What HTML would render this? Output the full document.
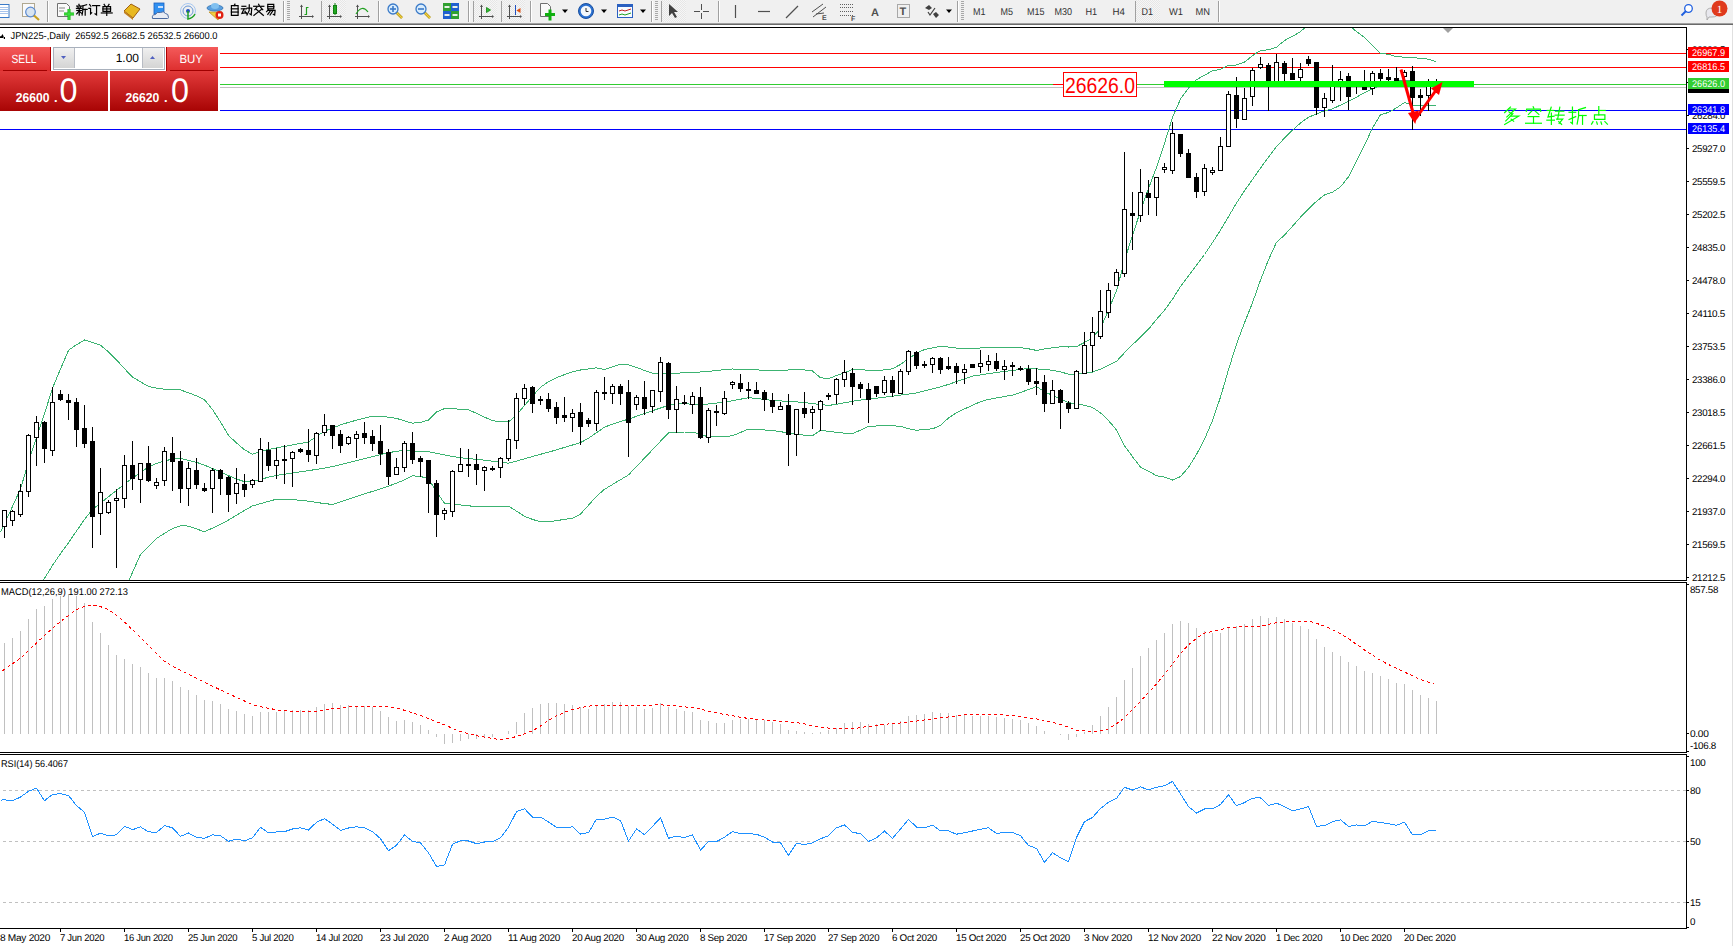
<!DOCTYPE html>
<html><head><meta charset="utf-8"><title>JPN225 Daily</title>
<style>
html,body{margin:0;padding:0;background:#fff;}
body{width:1733px;height:946px;overflow:hidden;position:relative;font-family:"Liberation Sans",sans-serif;}
svg{position:absolute;left:0;top:0;text-rendering:geometricPrecision;}
</style></head><body>
<svg width="1733" height="946" viewBox="0 0 1733 946" font-family="Liberation Sans, sans-serif">
<defs>
<linearGradient id="gSellTop" x1="0" y1="0" x2="0" y2="1"><stop offset="0" stop-color="#f45a5a"/><stop offset="1" stop-color="#dc2c2c"/></linearGradient>
<linearGradient id="gPrice" x1="0" y1="0" x2="0" y2="1"><stop offset="0" stop-color="#e23a3a"/><stop offset="1" stop-color="#a80404"/></linearGradient>
<linearGradient id="gBtn" x1="0" y1="0" x2="0" y2="1"><stop offset="0" stop-color="#f0f0f0"/><stop offset="1" stop-color="#d4d4d4"/></linearGradient>
<clipPath id="clipMain"><rect x="0" y="28" width="1686" height="552"/></clipPath>
<clipPath id="clipMacd"><rect x="0" y="583" width="1686" height="169"/></clipPath>
<clipPath id="clipRsi"><rect x="0" y="755" width="1686" height="173"/></clipPath>
</defs>

<rect x="0" y="0" width="1733" height="23" fill="#f0f0f0"/>
<rect x="0" y="23" width="1733" height="1" fill="#a0a0a0"/>
<rect x="0" y="24" width="1733" height="1" fill="#6a6a6a"/>
<rect x="1732" y="25" width="1" height="921" fill="#e0e0e0"/>
<defs><pattern id="chk" width="2" height="2" patternUnits="userSpaceOnUse"><rect width="2" height="2" fill="#f6f6f6"/><rect width="1" height="1" fill="#e6e6e6"/><rect x="1" y="1" width="1" height="1" fill="#e6e6e6"/></pattern></defs>
<rect x="47" y="1" width="1" height="21" fill="#a0a0a0" shape-rendering="crispEdges"/>
<rect x="48" y="1" width="1" height="21" fill="#ffffff" shape-rendering="crispEdges"/>
<rect x="283" y="1" width="1" height="21" fill="#a0a0a0" shape-rendering="crispEdges"/>
<rect x="284" y="1" width="1" height="21" fill="#ffffff" shape-rendering="crispEdges"/>
<rect x="321" y="1" width="1" height="21" fill="#a0a0a0" shape-rendering="crispEdges"/>
<rect x="322" y="1" width="1" height="21" fill="#ffffff" shape-rendering="crispEdges"/>
<rect x="378" y="1" width="1" height="21" fill="#a0a0a0" shape-rendering="crispEdges"/>
<rect x="379" y="1" width="1" height="21" fill="#ffffff" shape-rendering="crispEdges"/>
<rect x="468" y="1" width="1" height="21" fill="#a0a0a0" shape-rendering="crispEdges"/>
<rect x="469" y="1" width="1" height="21" fill="#ffffff" shape-rendering="crispEdges"/>
<rect x="473" y="1" width="1" height="21" fill="#a0a0a0" shape-rendering="crispEdges"/>
<rect x="474" y="1" width="1" height="21" fill="#ffffff" shape-rendering="crispEdges"/>
<rect x="501" y="1" width="1" height="21" fill="#a0a0a0" shape-rendering="crispEdges"/>
<rect x="502" y="1" width="1" height="21" fill="#ffffff" shape-rendering="crispEdges"/>
<rect x="530" y="1" width="1" height="21" fill="#a0a0a0" shape-rendering="crispEdges"/>
<rect x="531" y="1" width="1" height="21" fill="#ffffff" shape-rendering="crispEdges"/>
<rect x="651" y="1" width="1" height="21" fill="#a0a0a0" shape-rendering="crispEdges"/>
<rect x="652" y="1" width="1" height="21" fill="#ffffff" shape-rendering="crispEdges"/>
<rect x="661" y="1" width="1" height="21" fill="#a0a0a0" shape-rendering="crispEdges"/>
<rect x="662" y="1" width="1" height="21" fill="#ffffff" shape-rendering="crispEdges"/>
<rect x="718" y="1" width="1" height="21" fill="#a0a0a0" shape-rendering="crispEdges"/>
<rect x="719" y="1" width="1" height="21" fill="#ffffff" shape-rendering="crispEdges"/>
<rect x="957" y="1" width="1" height="21" fill="#a0a0a0" shape-rendering="crispEdges"/>
<rect x="958" y="1" width="1" height="21" fill="#ffffff" shape-rendering="crispEdges"/>
<rect x="1135" y="1" width="1" height="21" fill="#a0a0a0" shape-rendering="crispEdges"/>
<rect x="1136" y="1" width="1" height="21" fill="#ffffff" shape-rendering="crispEdges"/>
<rect x="1218" y="1" width="1" height="21" fill="#a0a0a0" shape-rendering="crispEdges"/>
<rect x="1219" y="1" width="1" height="21" fill="#ffffff" shape-rendering="crispEdges"/>
<line x1="288.5" y1="1" x2="288.5" y2="21" stroke="#a8a8a8" stroke-width="3" stroke-dasharray="1,1"/>
<line x1="656.5" y1="1" x2="656.5" y2="21" stroke="#a8a8a8" stroke-width="3" stroke-dasharray="1,1"/>
<line x1="962.5" y1="1" x2="962.5" y2="21" stroke="#a8a8a8" stroke-width="3" stroke-dasharray="1,1"/>
<rect x="322" y="0" width="24" height="22" fill="url(#chk)" shape-rendering="crispEdges"/>
<rect x="474" y="0" width="23" height="22" fill="url(#chk)" shape-rendering="crispEdges"/>
<rect x="502" y="0" width="23" height="22" fill="url(#chk)" shape-rendering="crispEdges"/>
<rect x="662" y="0" width="24" height="22" fill="url(#chk)" shape-rendering="crispEdges"/>
<rect x="1136" y="0" width="24" height="22" fill="url(#chk)" shape-rendering="crispEdges"/>
<rect x="-3" y="4.5" width="12" height="13" fill="#fff" stroke="#3a7ac8" stroke-width="1"/>
<g stroke="#a8c4ec" stroke-width="1"><line x1="-2" y1="7.5" x2="8" y2="7.5"/><line x1="-2" y1="9.5" x2="8" y2="9.5"/><line x1="-2" y1="11.5" x2="8" y2="11.5"/><line x1="-2" y1="13.5" x2="8" y2="13.5"/></g>
<rect x="22.5" y="3.5" width="12" height="13" fill="#fafafa" stroke="#b0a890" stroke-width="1"/>
<circle cx="30.5" cy="12" r="4.8" fill="#d8e4f0" stroke="#5a8ad0" stroke-width="1.2"/>
<line x1="34" y1="15.5" x2="39" y2="20" stroke="#c8a020" stroke-width="2.2"/>
<path d="M57.5,3.5 h9 l3,3 v10 h-12 z" fill="#fafafa" stroke="#707070" stroke-width="1"/>
<line x1="59" y1="8" x2="65" y2="8" stroke="#888"/><line x1="59" y1="11" x2="64" y2="11" stroke="#888"/>
<path d="M64,14 h10 M69,9 v11" stroke="#10b010" stroke-width="3"/>
<path d="M64,14 h10 M69,9 v11" stroke="#40e040" stroke-width="1.4"/>
<g fill="none" stroke="#000000" stroke-width="1.2" stroke-linecap="square" stroke-linejoin="miter"><polyline points="78.88,4.34 79.33,5.50"/><polyline points="76.69,6.07 81.52,6.07"/><polyline points="77.72,6.76 78.30,7.91"/><polyline points="80.72,6.76 80.14,7.91"/><polyline points="76.46,8.37 81.75,8.37"/><polyline points="76.81,10.44 81.64,10.44"/><polyline points="79.22,8.37 79.22,15.27"/><polyline points="79.11,11.13 76.69,13.89"/><polyline points="79.45,11.36 81.52,13.20"/><polyline points="86.58,4.69 82.90,5.84"/><polyline points="82.90,5.84 82.90,9.98 82.09,15.04"/><polyline points="82.90,9.41 87.16,9.41"/><polyline points="85.20,9.41 85.20,15.27"/></g><g fill="none" stroke="#000000" stroke-width="1.2" stroke-linecap="square" stroke-linejoin="miter"><polyline points="89.65,4.69 90.80,6.07"/><polyline points="88.84,8.37 90.57,8.37 90.57,13.89 91.72,12.74"/><polyline points="92.64,5.61 99.66,5.61"/><polyline points="96.55,5.61 96.55,14.81 95.06,13.89"/></g><g fill="none" stroke="#000000" stroke-width="1.2" stroke-linecap="square" stroke-linejoin="miter"><polyline points="104.11,4.34 105.03,5.72"/><polyline points="109.05,4.34 108.13,5.72"/><polyline points="102.95,6.53 110.55,6.53 110.55,11.36 102.95,11.36 102.95,6.53"/><polyline points="102.95,8.95 110.55,8.95"/><polyline points="106.75,6.53 106.75,15.38"/><polyline points="101.34,12.97 112.16,12.97"/></g>
<path d="M124,11 L131,4 L140,9 L133,18 Z" fill="#e8b820" stroke="#a06010" stroke-width="1"/>
<path d="M124,11 L133,18 L133,20 L124,13 Z" fill="#c08020"/>
<rect x="154" y="3" width="10" height="11" fill="#3090f0" stroke="#1a60c0" stroke-width="0.8"/>
<rect x="158" y="6" width="5" height="2" fill="#c8e0ff"/>
<path d="M152.5,18.5 q-1,-4 3,-4 q1,-3 5,-2 q3,-2 5,1 q3,0 3,4 q0,1 -1,1 z" fill="#e8ecf4" stroke="#4a6aa0" stroke-width="1"/>
<circle cx="188" cy="11" r="7.5" fill="none" stroke="#a8c8f0" stroke-width="1"/>
<circle cx="188" cy="11" r="5" fill="none" stroke="#6898d8" stroke-width="1"/>
<circle cx="188" cy="11" r="2" fill="#2050c0"/>
<path d="M188,11 v8 q5,-1 7,-5" fill="none" stroke="#20a020" stroke-width="1.5"/>
<path d="M209,12 L222,12 L218,20 Z" fill="#f0d040" stroke="#c09020" stroke-width="0.8"/>
<ellipse cx="215" cy="8" rx="8" ry="3" fill="#5aa0e0" stroke="#3070b0" stroke-width="0.8"/>
<ellipse cx="215" cy="6" rx="4" ry="3" fill="#80c0f0"/>
<circle cx="219.5" cy="15" r="4" fill="#e02010"/>
<rect x="218" y="13.5" width="3" height="3" fill="#fff"/>
<g fill="none" stroke="#000000" stroke-width="1.2" stroke-linecap="square" stroke-linejoin="miter"><polyline points="234.98,4.12 234.06,5.61"/><polyline points="231.41,5.72 238.09,5.72 238.09,15.38 231.41,15.38 231.41,5.72"/><polyline points="231.41,8.83 238.09,8.83"/><polyline points="231.41,12.05 238.09,12.05"/></g><g fill="none" stroke="#000000" stroke-width="1.2" stroke-linecap="square" stroke-linejoin="miter"><polyline points="241.92,6.30 245.83,6.30"/><polyline points="241.34,8.83 246.41,8.83"/><polyline points="244.10,8.83 241.92,13.43 246.18,12.74"/><polyline points="244.91,11.13 246.41,13.66"/><polyline points="247.09,8.03 251.69,8.03 251.24,14.81 249.85,13.89"/><polyline points="249.28,4.92 249.16,10.67 246.98,15.04"/></g><g fill="none" stroke="#000000" stroke-width="1.2" stroke-linecap="square" stroke-linejoin="miter"><polyline points="258.63,4.23 259.21,5.38"/><polyline points="253.69,6.30 263.81,6.30"/><polyline points="256.80,7.45 254.84,9.75"/><polyline points="260.70,7.45 262.77,9.75"/><polyline points="256.45,9.52 263.35,15.38"/><polyline points="261.28,9.52 253.92,15.38"/></g><g fill="none" stroke="#000000" stroke-width="1.2" stroke-linecap="square" stroke-linejoin="miter"><polyline points="267.76,4.46 273.74,4.46 273.74,8.83 267.76,8.83 267.76,4.46"/><polyline points="267.76,6.64 273.74,6.64"/><polyline points="268.45,9.52 266.61,11.59"/><polyline points="267.99,10.44 275.12,10.44 274.66,15.04 273.28,14.35"/><polyline points="270.18,11.13 267.76,14.35"/><polyline points="272.59,11.13 270.06,15.04"/></g>
<g stroke="#505050" stroke-width="1" shape-rendering="crispEdges"><line x1="301.5" y1="5" x2="301.5" y2="19"/><line x1="299" y1="16.5" x2="313" y2="16.5"/></g><path d="M300,7 L301.5,4.5 L303,7 Z M312,15 L314,16.5 L312,18 Z" fill="#505050"/>
<path d="M304.5,14.5 h2 v-7 h2" fill="none" stroke="#20a020" stroke-width="1.2"/>
<g stroke="#505050" stroke-width="1" shape-rendering="crispEdges"><line x1="329.5" y1="5" x2="329.5" y2="19"/><line x1="327" y1="16.5" x2="341" y2="16.5"/></g><path d="M328,7 L329.5,4.5 L331,7 Z M340,15 L342,16.5 L340,18 Z" fill="#505050"/>
<rect x="333.5" y="5.5" width="3" height="8" fill="#30d030" stroke="#108010" stroke-width="1"/><line x1="335" y1="3" x2="335" y2="15" stroke="#108010"/>
<g stroke="#505050" stroke-width="1" shape-rendering="crispEdges"><line x1="357.5" y1="5" x2="357.5" y2="19"/><line x1="355" y1="16.5" x2="369" y2="16.5"/></g><path d="M356,7 L357.5,4.5 L359,7 Z M368,15 L370,16.5 L368,18 Z" fill="#505050"/>
<path d="M356,14 Q362,4 368,12" fill="none" stroke="#20a020" stroke-width="1.2"/>
<line x1="396" y1="12" x2="402" y2="18" stroke="#b09010" stroke-width="2.6"/>
<line x1="396" y1="12" x2="402" y2="18" stroke="#f0d040" stroke-width="1.2"/>
<circle cx="393" cy="9" r="5" fill="#d8ecfc" stroke="#3a7ac8" stroke-width="1.3"/>
<line x1="390" y1="9" x2="396" y2="9" stroke="#3a7ac8" stroke-width="1.6"/>
<line x1="393" y1="6" x2="393" y2="12" stroke="#3a7ac8" stroke-width="1.6"/>
<line x1="424" y1="12" x2="430" y2="18" stroke="#b09010" stroke-width="2.6"/>
<line x1="424" y1="12" x2="430" y2="18" stroke="#f0d040" stroke-width="1.2"/>
<circle cx="421" cy="9" r="5" fill="#d8ecfc" stroke="#3a7ac8" stroke-width="1.3"/>
<line x1="418" y1="9" x2="424" y2="9" stroke="#3a7ac8" stroke-width="1.6"/>
<rect x="443" y="3" width="8" height="8" fill="#30a030"/><rect x="451" y="3" width="8" height="8" fill="#2060d0"/><rect x="443" y="11" width="8" height="8" fill="#2060d0"/><rect x="451" y="11" width="8" height="8" fill="#30a030"/>
<g fill="#e8f0e8"><rect x="444.5" y="6" width="5" height="2"/><rect x="444.5" y="14" width="5" height="2"/><rect x="452.5" y="6" width="5" height="2"/><rect x="452.5" y="14" width="5" height="2"/></g>
<g stroke="#505050" stroke-width="1" shape-rendering="crispEdges"><line x1="481.5" y1="5" x2="481.5" y2="19"/><line x1="479" y1="16.5" x2="493" y2="16.5"/></g><path d="M480,7 L481.5,4.5 L483,7 Z M492,15 L494,16.5 L492,18 Z" fill="#505050"/>
<path d="M486.5,7.5 L490.5,10 L486.5,12.5 Z" fill="#30c030" stroke="#108010" stroke-width="0.8"/>
<g stroke="#505050" stroke-width="1" shape-rendering="crispEdges"><line x1="509.5" y1="5" x2="509.5" y2="19"/><line x1="507" y1="16.5" x2="521" y2="16.5"/></g><path d="M508,7 L509.5,4.5 L511,7 Z M520,15 L522,16.5 L520,18 Z" fill="#505050"/>
<line x1="515.5" y1="5" x2="515.5" y2="15" stroke="#2050c0" stroke-width="1"/><path d="M516.5,10.5 L520.5,8 L520.5,13 Z" fill="#e05010"/>
<path d="M540.5,3.5 h7 l3,3 v10 h-10 z" fill="#fafafa" stroke="#707070" stroke-width="1"/>
<path d="M545,14.5 h10 M550,9.5 v11" stroke="#10b010" stroke-width="3"/>
<path d="M562,9.5 L568,9.5 L565,13 Z" fill="#000"/>
<path d="M601,9.5 L607,9.5 L604,13 Z" fill="#000"/>
<path d="M640,9.5 L646,9.5 L643,13 Z" fill="#000"/>
<path d="M946,9.5 L952,9.5 L949,13 Z" fill="#000"/>
<circle cx="586" cy="11" r="7.5" fill="#2a70d0" stroke="#1a50a0" stroke-width="1"/>
<circle cx="586" cy="11" r="5.3" fill="#f4f8fc"/>
<path d="M586,8 v3.5 h2.5" fill="none" stroke="#303030" stroke-width="1"/>
<rect x="617.5" y="4.5" width="15" height="13" fill="#f8fbff" stroke="#2a60c0" stroke-width="1"/><rect x="618" y="5" width="14" height="2" fill="#2a60c0"/>
<path d="M619,11 l3,-1 l3,1 l3,-1 l3,-1" fill="none" stroke="#c02020"/><path d="M619,15 l3,-1 l3,1 l3,-1 l3,-1" fill="none" stroke="#20a020"/>
<path d="M669,4 L669,16 L672,13 L675,18 L677,17 L674,12 L678,12 Z" fill="#404040"/>
<g stroke="#505050" stroke-width="1" shape-rendering="crispEdges"><line x1="694" y1="11.5" x2="700" y2="11.5"/><line x1="703" y1="11.5" x2="709" y2="11.5"/><line x1="701.5" y1="4" x2="701.5" y2="10"/><line x1="701.5" y1="13" x2="701.5" y2="19"/></g>
<g stroke="#505050" stroke-width="1.2"><line x1="735.5" y1="5" x2="735.5" y2="18"/><line x1="758" y1="11.5" x2="770" y2="11.5"/><line x1="786" y1="18" x2="798" y2="6"/></g>
<g stroke="#505050" stroke-width="1"><line x1="812" y1="12" x2="823" y2="4"/><line x1="813" y1="17" x2="826" y2="7"/><line x1="816" y1="14" x2="824" y2="13"/></g>
<text x="822" y="20" font-size="7" font-weight="bold" fill="#505050">E</text>
<g stroke="#606060" stroke-width="1" stroke-dasharray="1,1"><line x1="840" y1="4.5" x2="854" y2="4.5"/><line x1="840" y1="7.5" x2="854" y2="7.5"/><line x1="840" y1="11.5" x2="854" y2="11.5"/><line x1="840" y1="15.5" x2="854" y2="15.5"/></g>
<text x="851" y="21" font-size="7" font-weight="bold" fill="#505050">F</text>
<text x="871" y="16" font-size="11" font-weight="bold" fill="#505050">A</text>
<rect x="897.5" y="4.5" width="12" height="13" fill="none" stroke="#606060" stroke-dasharray="1,1"/>
<text x="899.5" y="15" font-size="11" font-weight="bold" fill="#505050">T</text>
<path d="M925,8 L929,5 L932,8 L929,10 Z M933,14 L936,12 L939,15 L936,18 Z" fill="#404040"/><path d="M928,12 L930,15 L935,8" fill="none" stroke="#404040" stroke-width="1.2"/>
<text x="973" y="15" font-size="10" fill="#303030" textLength="12.5" lengthAdjust="spacingAndGlyphs">M1</text>
<text x="1000.5" y="15" font-size="10" fill="#303030" textLength="12.5" lengthAdjust="spacingAndGlyphs">M5</text>
<text x="1027" y="15" font-size="10" fill="#303030" textLength="17.5" lengthAdjust="spacingAndGlyphs">M15</text>
<text x="1054.5" y="15" font-size="10" fill="#303030" textLength="17.6" lengthAdjust="spacingAndGlyphs">M30</text>
<text x="1085.5" y="15" font-size="10" fill="#303030" textLength="11.7" lengthAdjust="spacingAndGlyphs">H1</text>
<text x="1112.5" y="15" font-size="10" fill="#303030" textLength="12.4" lengthAdjust="spacingAndGlyphs">H4</text>
<text x="1141.5" y="15" font-size="10" fill="#303030" textLength="11.5" lengthAdjust="spacingAndGlyphs">D1</text>
<text x="1169" y="15" font-size="10" fill="#303030" textLength="14" lengthAdjust="spacingAndGlyphs">W1</text>
<text x="1195.5" y="15" font-size="10" fill="#303030" textLength="14.5" lengthAdjust="spacingAndGlyphs">MN</text>
<circle cx="1688.5" cy="8.5" r="3.8" fill="#fff" stroke="#2060e0" stroke-width="1.3"/><line x1="1686" y1="11" x2="1681.5" y2="15.5" stroke="#2060e0" stroke-width="2"/>
<path d="M1706,13 q0,-5 6,-5 q6,0 6,5 q0,4 -6,4 l-3,0 l-2,3 l0,-3 q-1,-1 -1,-4 z" fill="#e8e8ee" stroke="#a0a0a0" stroke-width="0.8"/>
<circle cx="1719.5" cy="8.5" r="8" fill="#e03a1c"/>
<text x="1719.5" y="12.5" font-size="11" fill="#fff" text-anchor="middle" font-family="Liberation Serif, serif">1</text>
<g shape-rendering="crispEdges" fill="#000">
<rect x="0" y="27" width="1687" height="1"/>
<rect x="1686" y="27" width="1" height="554"/>
<rect x="0" y="580" width="1687" height="1"/>
<rect x="0" y="582" width="1687" height="1"/>
<rect x="1686" y="582" width="1" height="171"/>
<rect x="0" y="752" width="1687" height="1"/>
<rect x="0" y="754" width="1687" height="1"/>
<rect x="1686" y="754" width="1" height="175"/>
<rect x="0" y="928" width="1687" height="1"/>
</g>
<g clip-path="url(#clipMain)">
<g shape-rendering="crispEdges">
<rect x="0" y="53" width="1686" height="1" fill="#ff0000"/>
<rect x="0" y="67" width="1686" height="1" fill="#ff0000"/>
<rect x="0" y="84" width="1686" height="1" fill="#32cd32"/>
<rect x="0" y="87" width="1686" height="1" fill="#c0c0c0"/>
<rect x="0" y="110" width="1686" height="1" fill="#0000ff"/>
<rect x="0" y="129" width="1686" height="1" fill="#0000ff"/>
</g>
<polyline points="0.5,532.5 4.5,523.7 12.5,506.5 20.5,489.0 28.5,461.9 36.5,437.9 44.5,413.7 52.5,388.1 60.5,369.0 68.5,350.3 76.5,344.7 84.5,340.0 92.5,342.5 100.5,345.2 108.5,351.8 116.5,359.9 124.5,368.7 132.5,377.1 140.5,381.8 148.5,386.5 156.5,388.2 164.5,389.2 172.5,389.5 180.5,389.9 188.5,392.8 196.5,395.8 204.5,399.8 212.5,409.5 220.5,422.0 228.5,435.4 236.5,443.0 244.5,449.7 252.5,454.3 260.5,451.6 268.5,449.4 276.5,447.9 284.5,446.4 292.5,444.9 300.5,443.4 308.5,441.9 316.5,436.4 324.5,431.2 332.5,428.1 340.5,424.9 348.5,422.4 356.5,420.2 364.5,418.1 372.5,416.1 380.5,416.6 388.5,417.1 396.5,418.4 404.5,420.9 412.5,423.2 420.5,422.3 428.5,420.2 436.5,411.9 444.5,408.6 452.5,408.8 460.5,409.2 468.5,409.7 476.5,413.3 484.5,417.1 492.5,420.6 500.5,421.8 508.5,422.0 516.5,414.9 524.5,405.5 532.5,396.2 540.5,387.3 548.5,381.6 556.5,377.6 564.5,374.6 572.5,371.7 580.5,370.0 588.5,368.9 596.5,367.8 604.5,369.6 612.5,366.9 620.5,364.1 628.5,364.9 636.5,367.4 644.5,370.5 652.5,373.3 660.5,373.3 668.5,373.3 676.5,373.2 684.5,372.8 692.5,372.4 700.5,372.0 708.5,371.4 716.5,370.5 724.5,369.7 732.5,369.0 740.5,369.3 748.5,369.6 756.5,369.9 764.5,370.2 772.5,370.5 780.5,370.2 788.5,370.0 796.5,369.7 804.5,369.9 812.5,371.0 820.5,377.8 828.5,378.5 836.5,375.6 844.5,372.5 852.5,369.6 860.5,369.9 868.5,370.1 876.5,370.4 884.5,369.9 892.5,368.8 900.5,364.4 908.5,358.8 916.5,353.2 924.5,349.6 932.5,347.9 940.5,346.2 948.5,347.1 956.5,348.1 964.5,348.4 972.5,348.2 980.5,348.0 988.5,347.9 996.5,347.7 1004.5,347.6 1012.5,347.6 1020.5,347.6 1028.5,348.8 1036.5,350.4 1044.5,349.0 1052.5,347.7 1060.5,346.9 1068.5,347.0 1076.5,346.6 1084.5,342.5 1092.5,337.8 1100.5,328.3 1108.5,310.1 1116.5,290.7 1124.5,260.6 1132.5,235.3 1140.5,211.0 1148.5,188.4 1156.5,167.4 1164.5,143.3 1172.5,117.4 1180.5,99.0 1188.5,88.2 1196.5,79.7 1204.5,75.2 1212.5,70.8 1220.5,69.3 1228.5,65.4 1236.5,65.0 1244.5,62.1 1252.5,55.7 1260.5,50.5 1268.5,49.8 1276.5,47.2 1284.5,40.5 1292.5,36.3 1300.5,31.6 1308.5,24.6 1316.5,22.5 1324.5,22.5 1332.5,22.5 1340.5,22.5 1348.5,24.6 1356.5,31.7 1364.5,37.3 1372.5,45.3 1380.5,53.2 1388.5,54.3 1396.5,56.8 1404.5,57.1 1412.5,57.3 1420.5,58.7 1428.5,59.1 1436.3,62.0" fill="none" stroke="#3cb371" stroke-width="1" shape-rendering="crispEdges"/>
<polyline points="43.3,580.3 44.5,578.4 52.5,565.4 60.5,553.7 68.5,542.7 76.5,531.0 84.5,519.4 92.5,509.4 100.5,503.1 108.5,496.7 116.5,490.4 124.5,484.0 132.5,478.0 140.5,472.5 148.5,467.0 156.5,463.4 164.5,461.1 172.5,458.9 180.5,458.3 188.5,460.3 196.5,462.3 204.5,465.1 212.5,468.6 220.5,472.1 228.5,475.6 236.5,479.0 244.5,481.7 252.5,480.9 260.5,479.5 268.5,477.1 276.5,475.4 284.5,474.2 292.5,473.0 300.5,471.8 308.5,470.6 316.5,469.4 324.5,468.1 332.5,466.6 340.5,464.6 348.5,462.6 356.5,460.6 364.5,458.6 372.5,456.6 380.5,454.6 388.5,452.8 396.5,451.2 404.5,450.6 412.5,451.0 420.5,451.4 428.5,451.8 436.5,453.3 444.5,454.9 452.5,456.5 460.5,457.8 468.5,458.6 476.5,459.4 484.5,460.2 492.5,461.2 500.5,462.2 508.5,463.2 516.5,461.1 524.5,458.8 532.5,456.5 540.5,454.3 548.5,452.1 556.5,449.9 564.5,447.4 572.5,445.0 580.5,442.6 588.5,438.2 596.5,432.7 604.5,427.2 612.5,424.1 620.5,421.6 628.5,419.1 636.5,416.3 644.5,413.5 652.5,410.7 660.5,408.0 668.5,405.3 676.5,403.4 684.5,403.8 692.5,404.2 700.5,404.6 708.5,404.0 716.5,403.1 724.5,402.1 732.5,400.7 740.5,399.2 748.5,397.7 756.5,398.5 764.5,399.5 772.5,400.4 780.5,400.9 788.5,401.4 796.5,401.9 804.5,402.6 812.5,403.6 820.5,404.5 828.5,405.5 836.5,404.2 844.5,402.8 852.5,401.3 860.5,400.1 868.5,399.1 876.5,398.2 884.5,397.2 892.5,396.2 900.5,395.1 908.5,394.1 916.5,392.9 924.5,390.9 932.5,388.9 940.5,386.9 948.5,384.4 956.5,381.6 964.5,378.8 972.5,376.1 980.5,374.9 988.5,373.7 996.5,372.5 1004.5,371.4 1012.5,370.5 1020.5,369.5 1028.5,368.5 1036.5,368.9 1044.5,369.5 1052.5,370.2 1060.5,371.9 1068.5,374.1 1076.5,374.2 1084.5,373.4 1092.5,372.0 1100.5,369.1 1108.5,365.4 1116.5,361.4 1124.5,352.7 1132.5,344.7 1140.5,337.2 1148.5,329.2 1156.5,319.4 1164.5,310.2 1172.5,299.2 1180.5,286.4 1188.5,275.8 1196.5,265.1 1204.5,254.5 1212.5,242.6 1220.5,230.2 1228.5,216.6 1236.5,203.1 1244.5,190.8 1252.5,179.4 1260.5,168.1 1268.5,157.1 1276.5,146.5 1284.5,138.1 1292.5,130.2 1300.5,123.0 1308.5,117.2 1316.5,114.0 1324.5,110.7 1332.5,108.9 1340.5,105.1 1348.5,101.1 1356.5,97.1 1364.5,92.6 1372.5,88.8 1380.5,85.6 1388.5,82.4 1396.5,80.8 1404.5,80.7 1412.5,80.6 1420.5,81.9 1428.5,83.2 1436.2,84.5" fill="none" stroke="#3cb371" stroke-width="1" shape-rendering="crispEdges"/>
<polyline points="129.0,580.3 132.5,572.4 140.5,554.5 148.5,546.5 156.5,538.5 164.5,533.3 172.5,528.5 180.5,525.7 188.5,526.1 196.5,528.9 204.5,531.8 212.5,528.1 220.5,524.4 228.5,520.0 236.5,515.2 244.5,510.4 252.5,505.9 260.5,503.6 268.5,501.4 276.5,499.2 284.5,499.3 292.5,499.8 300.5,500.2 308.5,501.2 316.5,502.4 324.5,503.6 332.5,504.4 340.5,501.8 348.5,499.1 356.5,496.4 364.5,493.9 372.5,491.4 380.5,488.9 388.5,486.1 396.5,483.2 404.5,479.8 412.5,475.8 420.5,476.4 428.5,478.8 436.5,491.6 444.5,503.3 452.5,504.1 460.5,505.0 468.5,505.8 476.5,506.6 484.5,506.6 492.5,506.4 500.5,506.3 508.5,506.1 516.5,511.1 524.5,516.4 532.5,519.4 540.5,521.8 548.5,521.8 556.5,520.6 564.5,519.4 572.5,518.2 580.5,514.1 588.5,505.2 596.5,496.2 604.5,489.3 612.5,484.5 620.5,479.7 628.5,474.9 636.5,466.6 644.5,458.1 652.5,449.7 660.5,441.2 668.5,432.8 676.5,432.2 684.5,432.0 692.5,432.0 700.5,434.5 708.5,436.9 716.5,436.7 724.5,436.4 732.5,435.8 740.5,432.4 748.5,429.1 756.5,429.5 764.5,430.0 772.5,430.5 780.5,431.7 788.5,432.9 796.5,434.1 804.5,435.2 812.5,435.7 820.5,430.4 828.5,431.3 836.5,432.3 844.5,433.2 852.5,433.8 860.5,430.1 868.5,426.3 876.5,426.0 884.5,425.8 892.5,425.7 900.5,426.4 908.5,428.7 916.5,430.2 924.5,429.5 932.5,428.8 940.5,425.5 948.5,417.9 956.5,412.6 964.5,408.9 972.5,405.3 980.5,401.6 988.5,399.4 996.5,398.0 1004.5,396.5 1012.5,395.1 1020.5,392.5 1028.5,389.5 1036.5,386.6 1044.5,391.7 1052.5,395.4 1060.5,399.1 1068.5,402.6 1076.5,403.8 1084.5,405.2 1092.5,407.5 1100.5,412.8 1108.5,420.6 1116.5,429.9 1124.5,445.7 1132.5,456.7 1140.5,467.2 1148.5,471.2 1156.5,475.7 1164.5,477.1 1172.5,480.0 1180.5,476.6 1188.5,467.3 1196.5,454.5 1204.5,439.2 1212.5,420.6 1220.5,397.1 1228.5,369.6 1236.5,344.2 1244.5,322.7 1252.5,302.7 1260.5,280.2 1268.5,259.8 1276.5,242.3 1284.5,235.1 1292.5,226.2 1300.5,217.2 1308.5,208.8 1316.5,201.3 1324.5,194.9 1332.5,192.2 1340.5,186.9 1348.5,176.8 1356.5,161.4 1364.5,145.4 1372.5,127.9 1380.5,114.8 1388.5,112.4 1396.5,107.8 1404.5,102.5 1412.5,105.1 1420.5,105.6 1428.5,105.8 1436.2,105.9" fill="none" stroke="#3cb371" stroke-width="1" shape-rendering="crispEdges"/>
<g shape-rendering="crispEdges">
<rect x="4" y="510" width="1" height="28" fill="#000"/>
<rect x="2" y="510" width="5" height="17" fill="#000"/>
<rect x="3" y="511" width="3" height="15" fill="#fff"/>
<rect x="12" y="510" width="1" height="16" fill="#000"/>
<rect x="10" y="511" width="5" height="10" fill="#000"/>
<rect x="11" y="512" width="3" height="8" fill="#fff"/>
<rect x="20" y="484" width="1" height="33" fill="#000"/>
<rect x="18" y="491" width="5" height="24" fill="#000"/>
<rect x="19" y="492" width="3" height="22" fill="#fff"/>
<rect x="28" y="434" width="1" height="63" fill="#000"/>
<rect x="26" y="435" width="5" height="57" fill="#000"/>
<rect x="27" y="436" width="3" height="55" fill="#fff"/>
<rect x="36" y="416" width="1" height="50" fill="#000"/>
<rect x="34" y="422" width="5" height="16" fill="#000"/>
<rect x="35" y="423" width="3" height="14" fill="#fff"/>
<rect x="44" y="421" width="1" height="42" fill="#000"/>
<rect x="42" y="422" width="5" height="27" fill="#000"/>
<rect x="52" y="387" width="1" height="69" fill="#000"/>
<rect x="50" y="402" width="5" height="49" fill="#000"/>
<rect x="51" y="403" width="3" height="47" fill="#fff"/>
<rect x="60" y="390" width="1" height="11" fill="#000"/>
<rect x="58" y="394" width="5" height="6" fill="#000"/>
<rect x="68" y="394" width="1" height="26" fill="#000"/>
<rect x="66" y="400" width="5" height="3" fill="#000"/>
<rect x="76" y="398" width="1" height="49" fill="#000"/>
<rect x="74" y="402" width="5" height="28" fill="#000"/>
<rect x="84" y="405" width="1" height="43" fill="#000"/>
<rect x="82" y="428" width="5" height="16" fill="#000"/>
<rect x="92" y="427" width="1" height="121" fill="#000"/>
<rect x="90" y="441" width="5" height="76" fill="#000"/>
<rect x="100" y="468" width="1" height="67" fill="#000"/>
<rect x="98" y="492" width="5" height="22" fill="#000"/>
<rect x="99" y="493" width="3" height="20" fill="#fff"/>
<rect x="108" y="500" width="1" height="14" fill="#000"/>
<rect x="106" y="502" width="5" height="11" fill="#000"/>
<rect x="107" y="503" width="3" height="9" fill="#fff"/>
<rect x="116" y="489" width="1" height="79" fill="#000"/>
<rect x="114" y="498" width="5" height="3" fill="#000"/>
<rect x="115" y="499" width="3" height="1" fill="#fff"/>
<rect x="124" y="455" width="1" height="53" fill="#000"/>
<rect x="122" y="465" width="5" height="34" fill="#000"/>
<rect x="123" y="466" width="3" height="32" fill="#fff"/>
<rect x="132" y="441" width="1" height="49" fill="#000"/>
<rect x="130" y="465" width="5" height="14" fill="#000"/>
<rect x="140" y="463" width="1" height="40" fill="#000"/>
<rect x="138" y="463" width="5" height="17" fill="#000"/>
<rect x="139" y="464" width="3" height="15" fill="#fff"/>
<rect x="148" y="446" width="1" height="36" fill="#000"/>
<rect x="146" y="463" width="5" height="18" fill="#000"/>
<rect x="156" y="478" width="1" height="11" fill="#000"/>
<rect x="154" y="482" width="5" height="4" fill="#000"/>
<rect x="155" y="483" width="3" height="2" fill="#fff"/>
<rect x="164" y="447" width="1" height="39" fill="#000"/>
<rect x="162" y="451" width="5" height="30" fill="#000"/>
<rect x="163" y="452" width="3" height="28" fill="#fff"/>
<rect x="172" y="437" width="1" height="54" fill="#000"/>
<rect x="170" y="453" width="5" height="9" fill="#000"/>
<rect x="180" y="451" width="1" height="52" fill="#000"/>
<rect x="178" y="461" width="5" height="28" fill="#000"/>
<rect x="188" y="462" width="1" height="44" fill="#000"/>
<rect x="186" y="468" width="5" height="21" fill="#000"/>
<rect x="187" y="469" width="3" height="19" fill="#fff"/>
<rect x="196" y="458" width="1" height="31" fill="#000"/>
<rect x="194" y="470" width="5" height="15" fill="#000"/>
<rect x="204" y="483" width="1" height="9" fill="#000"/>
<rect x="202" y="488" width="5" height="3" fill="#000"/>
<rect x="212" y="468" width="1" height="45" fill="#000"/>
<rect x="210" y="470" width="5" height="19" fill="#000"/>
<rect x="211" y="471" width="3" height="17" fill="#fff"/>
<rect x="220" y="469" width="1" height="26" fill="#000"/>
<rect x="218" y="470" width="5" height="9" fill="#000"/>
<rect x="228" y="476" width="1" height="36" fill="#000"/>
<rect x="226" y="477" width="5" height="18" fill="#000"/>
<rect x="236" y="468" width="1" height="36" fill="#000"/>
<rect x="234" y="483" width="5" height="11" fill="#000"/>
<rect x="235" y="484" width="3" height="9" fill="#fff"/>
<rect x="244" y="474" width="1" height="23" fill="#000"/>
<rect x="242" y="484" width="5" height="6" fill="#000"/>
<rect x="252" y="479" width="1" height="9" fill="#000"/>
<rect x="250" y="480" width="5" height="5" fill="#000"/>
<rect x="251" y="481" width="3" height="3" fill="#fff"/>
<rect x="260" y="438" width="1" height="44" fill="#000"/>
<rect x="258" y="449" width="5" height="33" fill="#000"/>
<rect x="259" y="450" width="3" height="31" fill="#fff"/>
<rect x="268" y="442" width="1" height="29" fill="#000"/>
<rect x="266" y="450" width="5" height="16" fill="#000"/>
<rect x="276" y="448" width="1" height="31" fill="#000"/>
<rect x="274" y="460" width="5" height="6" fill="#000"/>
<rect x="275" y="461" width="3" height="4" fill="#fff"/>
<rect x="284" y="445" width="1" height="39" fill="#000"/>
<rect x="282" y="459" width="5" height="2" fill="#000"/>
<rect x="292" y="451" width="1" height="36" fill="#000"/>
<rect x="290" y="452" width="5" height="7" fill="#000"/>
<rect x="291" y="453" width="3" height="5" fill="#fff"/>
<rect x="300" y="448" width="1" height="5" fill="#000"/>
<rect x="298" y="449" width="5" height="3" fill="#000"/>
<rect x="308" y="429" width="1" height="33" fill="#000"/>
<rect x="306" y="450" width="5" height="5" fill="#000"/>
<rect x="316" y="432" width="1" height="32" fill="#000"/>
<rect x="314" y="433" width="5" height="23" fill="#000"/>
<rect x="315" y="434" width="3" height="21" fill="#fff"/>
<rect x="324" y="414" width="1" height="22" fill="#000"/>
<rect x="322" y="425" width="5" height="8" fill="#000"/>
<rect x="323" y="426" width="3" height="6" fill="#fff"/>
<rect x="332" y="425" width="1" height="24" fill="#000"/>
<rect x="330" y="425" width="5" height="11" fill="#000"/>
<rect x="340" y="430" width="1" height="23" fill="#000"/>
<rect x="338" y="434" width="5" height="12" fill="#000"/>
<rect x="348" y="436" width="1" height="9" fill="#000"/>
<rect x="346" y="437" width="5" height="7" fill="#000"/>
<rect x="347" y="438" width="3" height="5" fill="#fff"/>
<rect x="356" y="431" width="1" height="27" fill="#000"/>
<rect x="354" y="434" width="5" height="5" fill="#000"/>
<rect x="355" y="435" width="3" height="3" fill="#fff"/>
<rect x="364" y="422" width="1" height="22" fill="#000"/>
<rect x="362" y="433" width="5" height="5" fill="#000"/>
<rect x="372" y="430" width="1" height="21" fill="#000"/>
<rect x="370" y="436" width="5" height="8" fill="#000"/>
<rect x="380" y="425" width="1" height="40" fill="#000"/>
<rect x="378" y="441" width="5" height="13" fill="#000"/>
<rect x="388" y="449" width="1" height="36" fill="#000"/>
<rect x="386" y="452" width="5" height="25" fill="#000"/>
<rect x="396" y="458" width="1" height="17" fill="#000"/>
<rect x="394" y="467" width="5" height="8" fill="#000"/>
<rect x="395" y="468" width="3" height="6" fill="#fff"/>
<rect x="404" y="441" width="1" height="31" fill="#000"/>
<rect x="402" y="443" width="5" height="25" fill="#000"/>
<rect x="403" y="444" width="3" height="23" fill="#fff"/>
<rect x="412" y="432" width="1" height="32" fill="#000"/>
<rect x="410" y="443" width="5" height="17" fill="#000"/>
<rect x="420" y="456" width="1" height="21" fill="#000"/>
<rect x="418" y="458" width="5" height="4" fill="#000"/>
<rect x="428" y="460" width="1" height="53" fill="#000"/>
<rect x="426" y="460" width="5" height="24" fill="#000"/>
<rect x="436" y="480" width="1" height="57" fill="#000"/>
<rect x="434" y="483" width="5" height="32" fill="#000"/>
<rect x="444" y="508" width="1" height="12" fill="#000"/>
<rect x="442" y="510" width="5" height="4" fill="#000"/>
<rect x="443" y="511" width="3" height="2" fill="#fff"/>
<rect x="452" y="470" width="1" height="47" fill="#000"/>
<rect x="450" y="471" width="5" height="41" fill="#000"/>
<rect x="451" y="472" width="3" height="39" fill="#fff"/>
<rect x="460" y="448" width="1" height="24" fill="#000"/>
<rect x="458" y="464" width="5" height="8" fill="#000"/>
<rect x="459" y="465" width="3" height="6" fill="#fff"/>
<rect x="468" y="449" width="1" height="28" fill="#000"/>
<rect x="466" y="464" width="5" height="2" fill="#000"/>
<rect x="476" y="454" width="1" height="31" fill="#000"/>
<rect x="474" y="464" width="5" height="6" fill="#000"/>
<rect x="484" y="466" width="1" height="25" fill="#000"/>
<rect x="482" y="467" width="5" height="4" fill="#000"/>
<rect x="483" y="468" width="3" height="2" fill="#fff"/>
<rect x="492" y="466" width="1" height="5" fill="#000"/>
<rect x="490" y="468" width="5" height="2" fill="#000"/>
<rect x="500" y="457" width="1" height="21" fill="#000"/>
<rect x="498" y="458" width="5" height="10" fill="#000"/>
<rect x="499" y="459" width="3" height="8" fill="#fff"/>
<rect x="508" y="420" width="1" height="41" fill="#000"/>
<rect x="506" y="439" width="5" height="20" fill="#000"/>
<rect x="507" y="440" width="3" height="18" fill="#fff"/>
<rect x="516" y="393" width="1" height="56" fill="#000"/>
<rect x="514" y="398" width="5" height="43" fill="#000"/>
<rect x="515" y="399" width="3" height="41" fill="#fff"/>
<rect x="524" y="384" width="1" height="21" fill="#000"/>
<rect x="522" y="388" width="5" height="11" fill="#000"/>
<rect x="523" y="389" width="3" height="9" fill="#fff"/>
<rect x="532" y="386" width="1" height="27" fill="#000"/>
<rect x="530" y="387" width="5" height="17" fill="#000"/>
<rect x="540" y="396" width="1" height="9" fill="#000"/>
<rect x="538" y="399" width="5" height="2" fill="#000"/>
<rect x="548" y="393" width="1" height="19" fill="#000"/>
<rect x="546" y="399" width="5" height="10" fill="#000"/>
<rect x="556" y="402" width="1" height="22" fill="#000"/>
<rect x="554" y="407" width="5" height="11" fill="#000"/>
<rect x="564" y="397" width="1" height="25" fill="#000"/>
<rect x="562" y="415" width="5" height="3" fill="#000"/>
<rect x="572" y="409" width="1" height="23" fill="#000"/>
<rect x="570" y="413" width="5" height="5" fill="#000"/>
<rect x="571" y="414" width="3" height="3" fill="#fff"/>
<rect x="580" y="403" width="1" height="42" fill="#000"/>
<rect x="578" y="412" width="5" height="15" fill="#000"/>
<rect x="588" y="418" width="1" height="9" fill="#000"/>
<rect x="586" y="420" width="5" height="4" fill="#000"/>
<rect x="596" y="390" width="1" height="41" fill="#000"/>
<rect x="594" y="392" width="5" height="32" fill="#000"/>
<rect x="595" y="393" width="3" height="30" fill="#fff"/>
<rect x="604" y="377" width="1" height="23" fill="#000"/>
<rect x="602" y="392" width="5" height="2" fill="#000"/>
<rect x="612" y="384" width="1" height="20" fill="#000"/>
<rect x="610" y="386" width="5" height="8" fill="#000"/>
<rect x="611" y="387" width="3" height="6" fill="#fff"/>
<rect x="620" y="384" width="1" height="21" fill="#000"/>
<rect x="618" y="386" width="5" height="8" fill="#000"/>
<rect x="628" y="380" width="1" height="77" fill="#000"/>
<rect x="626" y="392" width="5" height="31" fill="#000"/>
<rect x="636" y="395" width="1" height="15" fill="#000"/>
<rect x="634" y="397" width="5" height="8" fill="#000"/>
<rect x="635" y="398" width="3" height="6" fill="#fff"/>
<rect x="644" y="381" width="1" height="34" fill="#000"/>
<rect x="642" y="397" width="5" height="12" fill="#000"/>
<rect x="652" y="390" width="1" height="23" fill="#000"/>
<rect x="650" y="390" width="5" height="17" fill="#000"/>
<rect x="651" y="391" width="3" height="15" fill="#fff"/>
<rect x="660" y="357" width="1" height="45" fill="#000"/>
<rect x="658" y="362" width="5" height="30" fill="#000"/>
<rect x="659" y="363" width="3" height="28" fill="#fff"/>
<rect x="668" y="362" width="1" height="57" fill="#000"/>
<rect x="666" y="363" width="5" height="47" fill="#000"/>
<rect x="676" y="386" width="1" height="47" fill="#000"/>
<rect x="674" y="399" width="5" height="11" fill="#000"/>
<rect x="675" y="400" width="3" height="9" fill="#fff"/>
<rect x="684" y="395" width="1" height="10" fill="#000"/>
<rect x="682" y="402" width="5" height="2" fill="#000"/>
<rect x="692" y="392" width="1" height="22" fill="#000"/>
<rect x="690" y="396" width="5" height="9" fill="#000"/>
<rect x="691" y="397" width="3" height="7" fill="#fff"/>
<rect x="700" y="387" width="1" height="52" fill="#000"/>
<rect x="698" y="397" width="5" height="41" fill="#000"/>
<rect x="708" y="408" width="1" height="35" fill="#000"/>
<rect x="706" y="410" width="5" height="28" fill="#000"/>
<rect x="707" y="411" width="3" height="26" fill="#fff"/>
<rect x="716" y="405" width="1" height="21" fill="#000"/>
<rect x="714" y="411" width="5" height="2" fill="#000"/>
<rect x="724" y="391" width="1" height="24" fill="#000"/>
<rect x="722" y="398" width="5" height="16" fill="#000"/>
<rect x="723" y="399" width="3" height="14" fill="#fff"/>
<rect x="732" y="381" width="1" height="8" fill="#000"/>
<rect x="730" y="382" width="5" height="3" fill="#000"/>
<rect x="731" y="383" width="3" height="1" fill="#fff"/>
<rect x="740" y="374" width="1" height="18" fill="#000"/>
<rect x="738" y="383" width="5" height="6" fill="#000"/>
<rect x="748" y="382" width="1" height="17" fill="#000"/>
<rect x="746" y="389" width="5" height="2" fill="#000"/>
<rect x="756" y="382" width="1" height="12" fill="#000"/>
<rect x="754" y="390" width="5" height="4" fill="#000"/>
<rect x="764" y="390" width="1" height="21" fill="#000"/>
<rect x="762" y="392" width="5" height="8" fill="#000"/>
<rect x="772" y="393" width="1" height="20" fill="#000"/>
<rect x="770" y="400" width="5" height="7" fill="#000"/>
<rect x="780" y="402" width="1" height="8" fill="#000"/>
<rect x="778" y="406" width="5" height="4" fill="#000"/>
<rect x="779" y="407" width="3" height="2" fill="#fff"/>
<rect x="788" y="394" width="1" height="72" fill="#000"/>
<rect x="786" y="405" width="5" height="30" fill="#000"/>
<rect x="796" y="409" width="1" height="47" fill="#000"/>
<rect x="794" y="409" width="5" height="26" fill="#000"/>
<rect x="795" y="410" width="3" height="24" fill="#fff"/>
<rect x="804" y="392" width="1" height="26" fill="#000"/>
<rect x="802" y="408" width="5" height="6" fill="#000"/>
<rect x="812" y="406" width="1" height="23" fill="#000"/>
<rect x="810" y="409" width="5" height="4" fill="#000"/>
<rect x="811" y="410" width="3" height="2" fill="#fff"/>
<rect x="820" y="400" width="1" height="31" fill="#000"/>
<rect x="818" y="401" width="5" height="9" fill="#000"/>
<rect x="819" y="402" width="3" height="7" fill="#fff"/>
<rect x="828" y="393" width="1" height="7" fill="#000"/>
<rect x="826" y="395" width="5" height="2" fill="#000"/>
<rect x="836" y="378" width="1" height="26" fill="#000"/>
<rect x="834" y="379" width="5" height="16" fill="#000"/>
<rect x="835" y="380" width="3" height="14" fill="#fff"/>
<rect x="844" y="360" width="1" height="27" fill="#000"/>
<rect x="842" y="372" width="5" height="8" fill="#000"/>
<rect x="843" y="373" width="3" height="6" fill="#fff"/>
<rect x="852" y="368" width="1" height="37" fill="#000"/>
<rect x="850" y="373" width="5" height="14" fill="#000"/>
<rect x="860" y="382" width="1" height="16" fill="#000"/>
<rect x="858" y="384" width="5" height="5" fill="#000"/>
<rect x="868" y="383" width="1" height="40" fill="#000"/>
<rect x="866" y="389" width="5" height="11" fill="#000"/>
<rect x="876" y="386" width="1" height="11" fill="#000"/>
<rect x="874" y="386" width="5" height="8" fill="#000"/>
<rect x="884" y="376" width="1" height="19" fill="#000"/>
<rect x="882" y="380" width="5" height="13" fill="#000"/>
<rect x="883" y="381" width="3" height="11" fill="#fff"/>
<rect x="892" y="376" width="1" height="21" fill="#000"/>
<rect x="890" y="380" width="5" height="13" fill="#000"/>
<rect x="900" y="369" width="1" height="25" fill="#000"/>
<rect x="898" y="371" width="5" height="23" fill="#000"/>
<rect x="899" y="372" width="3" height="21" fill="#fff"/>
<rect x="908" y="350" width="1" height="25" fill="#000"/>
<rect x="906" y="351" width="5" height="21" fill="#000"/>
<rect x="907" y="352" width="3" height="19" fill="#fff"/>
<rect x="916" y="351" width="1" height="18" fill="#000"/>
<rect x="914" y="352" width="5" height="14" fill="#000"/>
<rect x="924" y="361" width="1" height="7" fill="#000"/>
<rect x="922" y="364" width="5" height="2" fill="#000"/>
<rect x="932" y="357" width="1" height="16" fill="#000"/>
<rect x="930" y="358" width="5" height="7" fill="#000"/>
<rect x="931" y="359" width="3" height="5" fill="#fff"/>
<rect x="940" y="357" width="1" height="17" fill="#000"/>
<rect x="938" y="358" width="5" height="12" fill="#000"/>
<rect x="948" y="357" width="1" height="13" fill="#000"/>
<rect x="946" y="366" width="5" height="3" fill="#000"/>
<rect x="956" y="363" width="1" height="21" fill="#000"/>
<rect x="954" y="366" width="5" height="7" fill="#000"/>
<rect x="964" y="364" width="1" height="20" fill="#000"/>
<rect x="962" y="369" width="5" height="4" fill="#000"/>
<rect x="963" y="370" width="3" height="2" fill="#fff"/>
<rect x="972" y="364" width="1" height="4" fill="#000"/>
<rect x="970" y="364" width="5" height="4" fill="#000"/>
<rect x="980" y="350" width="1" height="23" fill="#000"/>
<rect x="978" y="363" width="5" height="4" fill="#000"/>
<rect x="979" y="364" width="3" height="2" fill="#fff"/>
<rect x="988" y="355" width="1" height="16" fill="#000"/>
<rect x="986" y="361" width="5" height="4" fill="#000"/>
<rect x="987" y="362" width="3" height="2" fill="#fff"/>
<rect x="996" y="353" width="1" height="18" fill="#000"/>
<rect x="994" y="361" width="5" height="8" fill="#000"/>
<rect x="1004" y="360" width="1" height="20" fill="#000"/>
<rect x="1002" y="366" width="5" height="4" fill="#000"/>
<rect x="1003" y="367" width="3" height="2" fill="#fff"/>
<rect x="1012" y="362" width="1" height="14" fill="#000"/>
<rect x="1010" y="365" width="5" height="2" fill="#000"/>
<rect x="1020" y="366" width="1" height="5" fill="#000"/>
<rect x="1018" y="368" width="5" height="2" fill="#000"/>
<rect x="1028" y="365" width="1" height="20" fill="#000"/>
<rect x="1026" y="369" width="5" height="13" fill="#000"/>
<rect x="1036" y="368" width="1" height="27" fill="#000"/>
<rect x="1034" y="381" width="5" height="3" fill="#000"/>
<rect x="1044" y="375" width="1" height="37" fill="#000"/>
<rect x="1042" y="382" width="5" height="22" fill="#000"/>
<rect x="1052" y="380" width="1" height="24" fill="#000"/>
<rect x="1050" y="390" width="5" height="14" fill="#000"/>
<rect x="1051" y="391" width="3" height="12" fill="#fff"/>
<rect x="1060" y="389" width="1" height="40" fill="#000"/>
<rect x="1058" y="390" width="5" height="13" fill="#000"/>
<rect x="1068" y="401" width="1" height="12" fill="#000"/>
<rect x="1066" y="403" width="5" height="6" fill="#000"/>
<rect x="1076" y="370" width="1" height="39" fill="#000"/>
<rect x="1074" y="371" width="5" height="38" fill="#000"/>
<rect x="1075" y="372" width="3" height="36" fill="#fff"/>
<rect x="1084" y="332" width="1" height="42" fill="#000"/>
<rect x="1082" y="345" width="5" height="29" fill="#000"/>
<rect x="1083" y="346" width="3" height="27" fill="#fff"/>
<rect x="1092" y="317" width="1" height="55" fill="#000"/>
<rect x="1090" y="332" width="5" height="14" fill="#000"/>
<rect x="1091" y="333" width="3" height="12" fill="#fff"/>
<rect x="1100" y="290" width="1" height="49" fill="#000"/>
<rect x="1098" y="311" width="5" height="26" fill="#000"/>
<rect x="1099" y="312" width="3" height="24" fill="#fff"/>
<rect x="1108" y="283" width="1" height="35" fill="#000"/>
<rect x="1106" y="290" width="5" height="23" fill="#000"/>
<rect x="1107" y="291" width="3" height="21" fill="#fff"/>
<rect x="1116" y="269" width="1" height="17" fill="#000"/>
<rect x="1114" y="272" width="5" height="14" fill="#000"/>
<rect x="1115" y="273" width="3" height="12" fill="#fff"/>
<rect x="1124" y="152" width="1" height="125" fill="#000"/>
<rect x="1122" y="209" width="5" height="65" fill="#000"/>
<rect x="1123" y="210" width="3" height="63" fill="#fff"/>
<rect x="1132" y="192" width="1" height="58" fill="#000"/>
<rect x="1130" y="213" width="5" height="3" fill="#000"/>
<rect x="1140" y="169" width="1" height="53" fill="#000"/>
<rect x="1138" y="192" width="5" height="24" fill="#000"/>
<rect x="1139" y="193" width="3" height="22" fill="#fff"/>
<rect x="1148" y="180" width="1" height="35" fill="#000"/>
<rect x="1146" y="193" width="5" height="5" fill="#000"/>
<rect x="1156" y="177" width="1" height="39" fill="#000"/>
<rect x="1154" y="177" width="5" height="21" fill="#000"/>
<rect x="1155" y="178" width="3" height="19" fill="#fff"/>
<rect x="1164" y="163" width="1" height="10" fill="#000"/>
<rect x="1162" y="167" width="5" height="3" fill="#000"/>
<rect x="1163" y="168" width="3" height="1" fill="#fff"/>
<rect x="1172" y="122" width="1" height="52" fill="#000"/>
<rect x="1170" y="133" width="5" height="38" fill="#000"/>
<rect x="1171" y="134" width="3" height="36" fill="#fff"/>
<rect x="1180" y="134" width="1" height="23" fill="#000"/>
<rect x="1178" y="134" width="5" height="20" fill="#000"/>
<rect x="1188" y="149" width="1" height="29" fill="#000"/>
<rect x="1186" y="153" width="5" height="25" fill="#000"/>
<rect x="1196" y="173" width="1" height="25" fill="#000"/>
<rect x="1194" y="177" width="5" height="15" fill="#000"/>
<rect x="1204" y="164" width="1" height="32" fill="#000"/>
<rect x="1202" y="168" width="5" height="24" fill="#000"/>
<rect x="1203" y="169" width="3" height="22" fill="#fff"/>
<rect x="1212" y="167" width="1" height="8" fill="#000"/>
<rect x="1210" y="170" width="5" height="3" fill="#000"/>
<rect x="1211" y="171" width="3" height="1" fill="#fff"/>
<rect x="1220" y="137" width="1" height="34" fill="#000"/>
<rect x="1218" y="146" width="5" height="25" fill="#000"/>
<rect x="1219" y="147" width="3" height="23" fill="#fff"/>
<rect x="1228" y="91" width="1" height="56" fill="#000"/>
<rect x="1226" y="94" width="5" height="53" fill="#000"/>
<rect x="1227" y="95" width="3" height="51" fill="#fff"/>
<rect x="1236" y="77" width="1" height="51" fill="#000"/>
<rect x="1234" y="95" width="5" height="24" fill="#000"/>
<rect x="1244" y="88" width="1" height="32" fill="#000"/>
<rect x="1242" y="98" width="5" height="22" fill="#000"/>
<rect x="1243" y="99" width="3" height="20" fill="#fff"/>
<rect x="1252" y="68" width="1" height="38" fill="#000"/>
<rect x="1250" y="70" width="5" height="27" fill="#000"/>
<rect x="1251" y="71" width="3" height="25" fill="#fff"/>
<rect x="1260" y="57" width="1" height="12" fill="#000"/>
<rect x="1258" y="64" width="5" height="4" fill="#000"/>
<rect x="1259" y="65" width="3" height="2" fill="#fff"/>
<rect x="1268" y="63" width="1" height="48" fill="#000"/>
<rect x="1266" y="65" width="5" height="17" fill="#000"/>
<rect x="1276" y="54" width="1" height="30" fill="#000"/>
<rect x="1274" y="62" width="5" height="22" fill="#000"/>
<rect x="1275" y="63" width="3" height="20" fill="#fff"/>
<rect x="1284" y="61" width="1" height="21" fill="#000"/>
<rect x="1282" y="63" width="5" height="11" fill="#000"/>
<rect x="1292" y="58" width="1" height="22" fill="#000"/>
<rect x="1290" y="73" width="5" height="7" fill="#000"/>
<rect x="1300" y="63" width="1" height="19" fill="#000"/>
<rect x="1298" y="69" width="5" height="9" fill="#000"/>
<rect x="1299" y="70" width="3" height="7" fill="#fff"/>
<rect x="1308" y="56" width="1" height="10" fill="#000"/>
<rect x="1306" y="59" width="5" height="5" fill="#000"/>
<rect x="1316" y="62" width="1" height="53" fill="#000"/>
<rect x="1314" y="62" width="5" height="46" fill="#000"/>
<rect x="1324" y="93" width="1" height="24" fill="#000"/>
<rect x="1322" y="98" width="5" height="10" fill="#000"/>
<rect x="1323" y="99" width="3" height="8" fill="#fff"/>
<rect x="1332" y="65" width="1" height="38" fill="#000"/>
<rect x="1330" y="82" width="5" height="19" fill="#000"/>
<rect x="1331" y="83" width="3" height="17" fill="#fff"/>
<rect x="1340" y="71" width="1" height="30" fill="#000"/>
<rect x="1338" y="79" width="5" height="8" fill="#000"/>
<rect x="1339" y="80" width="3" height="6" fill="#fff"/>
<rect x="1348" y="73" width="1" height="37" fill="#000"/>
<rect x="1346" y="76" width="5" height="21" fill="#000"/>
<rect x="1356" y="81" width="1" height="13" fill="#000"/>
<rect x="1354" y="83" width="5" height="4" fill="#000"/>
<rect x="1364" y="70" width="1" height="20" fill="#000"/>
<rect x="1362" y="82" width="5" height="8" fill="#000"/>
<rect x="1372" y="71" width="1" height="24" fill="#000"/>
<rect x="1370" y="73" width="5" height="16" fill="#000"/>
<rect x="1371" y="74" width="3" height="14" fill="#fff"/>
<rect x="1380" y="69" width="1" height="13" fill="#000"/>
<rect x="1378" y="73" width="5" height="6" fill="#000"/>
<rect x="1388" y="69" width="1" height="15" fill="#000"/>
<rect x="1386" y="77" width="5" height="3" fill="#000"/>
<rect x="1396" y="67" width="1" height="18" fill="#000"/>
<rect x="1394" y="78" width="5" height="6" fill="#000"/>
<rect x="1404" y="70" width="1" height="11" fill="#000"/>
<rect x="1402" y="72" width="5" height="5" fill="#000"/>
<rect x="1403" y="73" width="3" height="3" fill="#fff"/>
<rect x="1412" y="66" width="1" height="64" fill="#000"/>
<rect x="1410" y="71" width="5" height="27" fill="#000"/>
<rect x="1420" y="89" width="1" height="27" fill="#000"/>
<rect x="1418" y="95" width="5" height="3" fill="#000"/>
<rect x="1428" y="79" width="1" height="32" fill="#000"/>
<rect x="1426" y="84" width="5" height="12" fill="#000"/>
<rect x="1427" y="85" width="3" height="10" fill="#fff"/>
<rect x="1436" y="79" width="1" height="14" fill="#000"/>
<rect x="1434" y="84" width="5" height="5" fill="#000"/>
<rect x="1435" y="85" width="3" height="3" fill="#fff"/>
</g>
<rect x="1164" y="81" width="310" height="6" fill="#00ff00" shape-rendering="crispEdges"/>
<g stroke="#ff0000" stroke-width="3" fill="none" stroke-linecap="butt" stroke-linejoin="miter">
<line x1="1401" y1="69.5" x2="1414.5" y2="118"/>
<line x1="1415.5" y1="119" x2="1439" y2="86"/>
</g>
<polygon points="1408,113 1415.2,124 1419,110.5" fill="#ff0000"/>
<polygon points="1431,88.5 1442.5,82 1439,95" fill="#ff0000"/>
<rect x="1053" y="84" width="10" height="1" fill="#ff0000" shape-rendering="crispEdges"/>
<rect x="1063.5" y="72.5" width="73" height="24" fill="#fff" stroke="#ff0000" stroke-width="1" shape-rendering="crispEdges"/>
<text x="1065" y="93" font-size="22" fill="#ff0000" textLength="70" lengthAdjust="spacingAndGlyphs">26626.0</text>
<polygon points="1443,28 1453,28 1448,33" fill="#a0a0a0"/>
<g fill="none" stroke="#00ff00" stroke-width="1.2" stroke-linecap="square" stroke-linejoin="miter"><polyline points="1510.42,107.04 1504.66,112.62"/><polyline points="1508.98,109.02 1515.46,109.02 1506.82,116.94"/><polyline points="1508.98,111.90 1511.86,114.06"/><polyline points="1512.94,113.70 1505.74,120.90"/><polyline points="1511.14,116.22 1518.70,116.22 1504.66,124.50"/><polyline points="1511.14,119.10 1513.66,121.26"/></g><g fill="none" stroke="#00ff00" stroke-width="1.2" stroke-linecap="square" stroke-linejoin="miter"><polyline points="1533.14,106.68 1533.86,108.30"/><polyline points="1526.30,111.18 1526.66,109.20 1540.34,109.20 1540.70,111.18"/><polyline points="1531.70,111.18 1528.46,114.42"/><polyline points="1535.30,111.18 1538.90,114.42"/><polyline points="1528.10,116.58 1538.90,116.58"/><polyline points="1533.50,116.58 1533.50,123.24"/><polyline points="1525.58,123.24 1541.42,123.24"/></g><g fill="none" stroke="#00ff00" stroke-width="1.2" stroke-linecap="square" stroke-linejoin="miter"><polyline points="1547.22,110.46 1553.70,110.46"/><polyline points="1551.18,107.22 1547.94,116.94 1554.06,116.22"/><polyline points="1551.36,112.98 1551.36,124.32"/><polyline points="1546.86,120.18 1554.42,120.18"/><polyline points="1555.50,111.18 1563.78,111.18"/><polyline points="1555.14,115.14 1564.14,115.14"/><polyline points="1559.82,107.22 1557.66,119.10"/><polyline points="1556.58,119.10 1562.70,119.10 1559.10,123.42"/><polyline points="1558.74,121.62 1561.62,124.32"/></g><g fill="none" stroke="#00ff00" stroke-width="1.2" stroke-linecap="square" stroke-linejoin="miter"><polyline points="1569.04,112.26 1575.70,112.26"/><polyline points="1572.46,107.22 1572.46,123.78 1570.84,122.34"/><polyline points="1569.04,119.46 1575.70,116.58"/><polyline points="1585.42,107.58 1578.58,109.74"/><polyline points="1578.58,109.74 1578.58,116.22 1577.14,123.96"/><polyline points="1578.58,115.50 1586.14,115.50"/><polyline points="1582.54,115.50 1582.54,124.32"/></g><g fill="none" stroke="#00ff00" stroke-width="1.2" stroke-linecap="square" stroke-linejoin="miter"><polyline points="1598.78,106.68 1598.78,114.78"/><polyline points="1598.78,110.46 1605.26,110.46"/><polyline points="1594.46,114.78 1604.90,114.78 1604.90,119.46 1594.46,119.46 1594.46,114.78"/><polyline points="1593.02,121.62 1591.58,124.14"/><polyline points="1596.62,121.98 1597.34,124.14"/><polyline points="1600.94,121.98 1601.66,124.14"/><polyline points="1604.90,121.62 1607.42,124.14"/></g>
</g>
<path d="M0,38 L0,36.2 L1.2,36.2 L2.4,34 L3.7,36.2 L3.3,38 Z" fill="#000"/><rect x="3.8" y="37" width="1.2" height="2" fill="#000"/>
<text x="10.5" y="39" font-size="9.8" fill="#000" textLength="207" lengthAdjust="spacingAndGlyphs" xml:space="preserve">JPN225-,Daily  26592.5 26682.5 26532.5 26600.0</text>
<g shape-rendering="crispEdges" fill="#000">
<rect x="1687" y="148" width="2" height="1"/>
<rect x="1687" y="181" width="2" height="1"/>
<rect x="1687" y="214" width="2" height="1"/>
<rect x="1687" y="247" width="2" height="1"/>
<rect x="1687" y="280" width="2" height="1"/>
<rect x="1687" y="313" width="2" height="1"/>
<rect x="1687" y="346" width="2" height="1"/>
<rect x="1687" y="379" width="2" height="1"/>
<rect x="1687" y="412" width="2" height="1"/>
<rect x="1687" y="445" width="2" height="1"/>
<rect x="1687" y="478" width="2" height="1"/>
<rect x="1687" y="511" width="2" height="1"/>
<rect x="1687" y="544" width="2" height="1"/>
<rect x="1687" y="577" width="2" height="1"/>
<rect x="1687" y="49" width="2" height="1"/>
<rect x="1687" y="82" width="2" height="1"/>
<rect x="1687" y="115" width="2" height="1"/>
</g>
<g font-size="9.8" fill="#000" letter-spacing="-0.3">
<text x="1692" y="152" textLength="33" lengthAdjust="spacingAndGlyphs">25927.0</text>
<text x="1692" y="185" textLength="33" lengthAdjust="spacingAndGlyphs">25559.5</text>
<text x="1692" y="218" textLength="33" lengthAdjust="spacingAndGlyphs">25202.5</text>
<text x="1692" y="251" textLength="33" lengthAdjust="spacingAndGlyphs">24835.0</text>
<text x="1692" y="284" textLength="33" lengthAdjust="spacingAndGlyphs">24478.0</text>
<text x="1692" y="317" textLength="33" lengthAdjust="spacingAndGlyphs">24110.5</text>
<text x="1692" y="350" textLength="33" lengthAdjust="spacingAndGlyphs">23753.5</text>
<text x="1692" y="383" textLength="33" lengthAdjust="spacingAndGlyphs">23386.0</text>
<text x="1692" y="416" textLength="33" lengthAdjust="spacingAndGlyphs">23018.5</text>
<text x="1692" y="449" textLength="33" lengthAdjust="spacingAndGlyphs">22661.5</text>
<text x="1692" y="482" textLength="33" lengthAdjust="spacingAndGlyphs">22294.0</text>
<text x="1692" y="515" textLength="33" lengthAdjust="spacingAndGlyphs">21937.0</text>
<text x="1692" y="548" textLength="33" lengthAdjust="spacingAndGlyphs">21569.5</text>
<text x="1692" y="581" textLength="33" lengthAdjust="spacingAndGlyphs">21212.5</text>
<text x="1692" y="119" textLength="33" lengthAdjust="spacingAndGlyphs">26284.0</text>
<text x="1692" y="53" textLength="33" lengthAdjust="spacingAndGlyphs">26998.5</text>
<text x="1692" y="86" textLength="33" lengthAdjust="spacingAndGlyphs">26641.0</text>
</g>
<rect x="1688" y="47" width="41" height="11" fill="#ff0000" shape-rendering="crispEdges"/>
<text x="1692" y="56" font-size="9.8" fill="#fff" textLength="33" lengthAdjust="spacingAndGlyphs">26967.9</text>
<rect x="1688" y="61" width="41" height="11" fill="#ff0000" shape-rendering="crispEdges"/>
<text x="1692" y="70" font-size="9.8" fill="#fff" textLength="33" lengthAdjust="spacingAndGlyphs">26816.5</text>
<rect x="1688" y="88" width="41" height="5" fill="#000" shape-rendering="crispEdges"/>
<rect x="1688" y="78" width="41" height="11" fill="#32cd32" shape-rendering="crispEdges"/>
<text x="1692" y="87" font-size="9.8" fill="#fff" textLength="33" lengthAdjust="spacingAndGlyphs">26626.0</text>
<rect x="1688" y="104" width="41" height="11" fill="#0000ff" shape-rendering="crispEdges"/>
<text x="1692" y="113" font-size="9.8" fill="#fff" textLength="33" lengthAdjust="spacingAndGlyphs">26341.8</text>
<rect x="1688" y="123" width="41" height="11" fill="#0000ff" shape-rendering="crispEdges"/>
<text x="1692" y="132" font-size="9.8" fill="#fff" textLength="33" lengthAdjust="spacingAndGlyphs">26135.4</text>
<g shape-rendering="crispEdges">
<rect x="0" y="46" width="220" height="66" fill="#fff"/>
<rect x="0" y="47" width="51" height="25" fill="url(#gSellTop)"/>
<rect x="50" y="47" width="1" height="25" fill="#b00000"/>
<rect x="3" y="70" width="44" height="1" fill="#a00000"/>
<rect x="166" y="47" width="52" height="25" fill="url(#gSellTop)"/>
<rect x="166" y="47" width="1" height="25" fill="#b00000"/>
<rect x="170" y="70" width="44" height="1" fill="#a00000"/>
<rect x="51" y="47" width="115" height="25" fill="#ffffff"/>
<rect x="53" y="47" width="111" height="22" fill="#ffffff" stroke="#a8b0bc" stroke-width="1"/>
<rect x="54" y="48" width="20" height="20" fill="url(#gBtn)"/>
<rect x="74" y="48" width="1" height="20" fill="#b8bcc4"/>
<rect x="142" y="48" width="1" height="20" fill="#b8bcc4"/>
<rect x="143" y="48" width="20" height="20" fill="url(#gBtn)"/>
<rect x="0" y="71" width="108" height="40" fill="url(#gPrice)"/>
<rect x="110" y="71" width="108" height="40" fill="url(#gPrice)"/>
</g>
<polygon points="61,56 66,56 63.5,59" fill="#5060c0"/>
<polygon points="150,59 155,59 152.5,56" fill="#5060c0"/>
<text x="139" y="62" font-size="12" fill="#000" text-anchor="end">1.00</text>
<text x="11.5" y="63" font-size="12" fill="#fff" textLength="25" lengthAdjust="spacingAndGlyphs">SELL</text>
<text x="179.5" y="63" font-size="12" fill="#fff" textLength="23.5" lengthAdjust="spacingAndGlyphs">BUY</text>
<text x="15.7" y="102" font-size="13" font-weight="bold" fill="#fff" textLength="33.7" lengthAdjust="spacingAndGlyphs">26600</text>
<text x="54" y="102" font-size="13" font-weight="bold" fill="#fff">.</text>
<text x="59.5" y="101.8" font-size="34" fill="#fff" textLength="18" lengthAdjust="spacingAndGlyphs">0</text>
<text x="125.4" y="102" font-size="13" font-weight="bold" fill="#fff" textLength="33.9" lengthAdjust="spacingAndGlyphs">26620</text>
<text x="164" y="102" font-size="13" font-weight="bold" fill="#fff">.</text>
<text x="171" y="101.8" font-size="34" fill="#fff" textLength="18" lengthAdjust="spacingAndGlyphs">0</text>
<g clip-path="url(#clipMacd)" shape-rendering="crispEdges" fill="#c0c0c0">
<rect x="4" y="643" width="1" height="91"/>
<rect x="12" y="638" width="1" height="96"/>
<rect x="20" y="631" width="1" height="103"/>
<rect x="28" y="619" width="1" height="115"/>
<rect x="36" y="609" width="1" height="125"/>
<rect x="44" y="606" width="1" height="128"/>
<rect x="52" y="599" width="1" height="135"/>
<rect x="60" y="596" width="1" height="138"/>
<rect x="68" y="594" width="1" height="140"/>
<rect x="76" y="596" width="1" height="138"/>
<rect x="84" y="603" width="1" height="131"/>
<rect x="92" y="622" width="1" height="112"/>
<rect x="100" y="633" width="1" height="101"/>
<rect x="108" y="645" width="1" height="89"/>
<rect x="116" y="655" width="1" height="79"/>
<rect x="124" y="659" width="1" height="75"/>
<rect x="132" y="664" width="1" height="70"/>
<rect x="140" y="667" width="1" height="67"/>
<rect x="148" y="673" width="1" height="61"/>
<rect x="156" y="678" width="1" height="56"/>
<rect x="164" y="678" width="1" height="56"/>
<rect x="172" y="681" width="1" height="53"/>
<rect x="180" y="687" width="1" height="47"/>
<rect x="188" y="690" width="1" height="44"/>
<rect x="196" y="695" width="1" height="39"/>
<rect x="204" y="700" width="1" height="34"/>
<rect x="212" y="701" width="1" height="33"/>
<rect x="220" y="704" width="1" height="30"/>
<rect x="228" y="709" width="1" height="25"/>
<rect x="236" y="711" width="1" height="23"/>
<rect x="244" y="714" width="1" height="20"/>
<rect x="252" y="716" width="1" height="18"/>
<rect x="260" y="712" width="1" height="22"/>
<rect x="268" y="712" width="1" height="22"/>
<rect x="276" y="712" width="1" height="22"/>
<rect x="284" y="711" width="1" height="23"/>
<rect x="292" y="710" width="1" height="24"/>
<rect x="300" y="710" width="1" height="24"/>
<rect x="308" y="710" width="1" height="24"/>
<rect x="316" y="707" width="1" height="27"/>
<rect x="324" y="704" width="1" height="30"/>
<rect x="332" y="703" width="1" height="31"/>
<rect x="340" y="705" width="1" height="29"/>
<rect x="348" y="705" width="1" height="29"/>
<rect x="356" y="706" width="1" height="28"/>
<rect x="364" y="706" width="1" height="28"/>
<rect x="372" y="707" width="1" height="27"/>
<rect x="380" y="711" width="1" height="23"/>
<rect x="388" y="717" width="1" height="17"/>
<rect x="396" y="721" width="1" height="13"/>
<rect x="404" y="720" width="1" height="14"/>
<rect x="412" y="722" width="1" height="12"/>
<rect x="420" y="725" width="1" height="9"/>
<rect x="428" y="730" width="1" height="4"/>
<rect x="436" y="734" width="1" height="3"/>
<rect x="444" y="734" width="1" height="10"/>
<rect x="452" y="734" width="1" height="9"/>
<rect x="460" y="734" width="1" height="7"/>
<rect x="468" y="734" width="1" height="5"/>
<rect x="476" y="734" width="1" height="5"/>
<rect x="484" y="734" width="1" height="3"/>
<rect x="492" y="734" width="1" height="3"/>
<rect x="508" y="731" width="1" height="3"/>
<rect x="516" y="722" width="1" height="12"/>
<rect x="524" y="713" width="1" height="21"/>
<rect x="532" y="708" width="1" height="26"/>
<rect x="540" y="704" width="1" height="30"/>
<rect x="548" y="703" width="1" height="31"/>
<rect x="556" y="703" width="1" height="31"/>
<rect x="564" y="704" width="1" height="30"/>
<rect x="572" y="705" width="1" height="29"/>
<rect x="580" y="707" width="1" height="27"/>
<rect x="588" y="709" width="1" height="25"/>
<rect x="596" y="706" width="1" height="28"/>
<rect x="604" y="704" width="1" height="30"/>
<rect x="612" y="702" width="1" height="32"/>
<rect x="620" y="702" width="1" height="32"/>
<rect x="628" y="706" width="1" height="28"/>
<rect x="636" y="707" width="1" height="27"/>
<rect x="644" y="709" width="1" height="25"/>
<rect x="652" y="708" width="1" height="26"/>
<rect x="660" y="703" width="1" height="31"/>
<rect x="668" y="707" width="1" height="27"/>
<rect x="676" y="709" width="1" height="25"/>
<rect x="684" y="711" width="1" height="23"/>
<rect x="692" y="712" width="1" height="22"/>
<rect x="700" y="720" width="1" height="14"/>
<rect x="708" y="721" width="1" height="13"/>
<rect x="716" y="723" width="1" height="11"/>
<rect x="724" y="723" width="1" height="11"/>
<rect x="732" y="720" width="1" height="14"/>
<rect x="740" y="719" width="1" height="15"/>
<rect x="748" y="719" width="1" height="15"/>
<rect x="756" y="719" width="1" height="15"/>
<rect x="764" y="720" width="1" height="14"/>
<rect x="772" y="722" width="1" height="12"/>
<rect x="780" y="724" width="1" height="10"/>
<rect x="788" y="730" width="1" height="4"/>
<rect x="796" y="731" width="1" height="3"/>
<rect x="804" y="732" width="1" height="2"/>
<rect x="812" y="733" width="1" height="1"/>
<rect x="820" y="732" width="1" height="2"/>
<rect x="828" y="730" width="1" height="4"/>
<rect x="836" y="728" width="1" height="6"/>
<rect x="844" y="723" width="1" height="11"/>
<rect x="852" y="722" width="1" height="12"/>
<rect x="860" y="722" width="1" height="12"/>
<rect x="868" y="724" width="1" height="10"/>
<rect x="876" y="724" width="1" height="10"/>
<rect x="884" y="725" width="1" height="9"/>
<rect x="892" y="723" width="1" height="11"/>
<rect x="900" y="721" width="1" height="13"/>
<rect x="908" y="716" width="1" height="18"/>
<rect x="916" y="715" width="1" height="19"/>
<rect x="924" y="714" width="1" height="20"/>
<rect x="932" y="712" width="1" height="22"/>
<rect x="940" y="713" width="1" height="21"/>
<rect x="948" y="713" width="1" height="21"/>
<rect x="956" y="715" width="1" height="19"/>
<rect x="964" y="715" width="1" height="19"/>
<rect x="972" y="716" width="1" height="18"/>
<rect x="980" y="716" width="1" height="18"/>
<rect x="988" y="716" width="1" height="18"/>
<rect x="996" y="717" width="1" height="17"/>
<rect x="1004" y="718" width="1" height="16"/>
<rect x="1012" y="719" width="1" height="15"/>
<rect x="1020" y="720" width="1" height="14"/>
<rect x="1028" y="723" width="1" height="11"/>
<rect x="1036" y="726" width="1" height="8"/>
<rect x="1044" y="731" width="1" height="3"/>
<rect x="1060" y="734" width="1" height="1"/>
<rect x="1068" y="734" width="1" height="6"/>
<rect x="1076" y="734" width="1" height="3"/>
<rect x="1084" y="732" width="1" height="2"/>
<rect x="1092" y="725" width="1" height="9"/>
<rect x="1100" y="716" width="1" height="18"/>
<rect x="1108" y="707" width="1" height="27"/>
<rect x="1116" y="697" width="1" height="37"/>
<rect x="1124" y="680" width="1" height="54"/>
<rect x="1132" y="668" width="1" height="66"/>
<rect x="1140" y="656" width="1" height="78"/>
<rect x="1148" y="648" width="1" height="86"/>
<rect x="1156" y="640" width="1" height="94"/>
<rect x="1164" y="633" width="1" height="101"/>
<rect x="1172" y="624" width="1" height="110"/>
<rect x="1180" y="621" width="1" height="113"/>
<rect x="1188" y="623" width="1" height="111"/>
<rect x="1196" y="628" width="1" height="106"/>
<rect x="1204" y="631" width="1" height="103"/>
<rect x="1212" y="633" width="1" height="101"/>
<rect x="1220" y="633" width="1" height="101"/>
<rect x="1228" y="628" width="1" height="106"/>
<rect x="1236" y="626" width="1" height="108"/>
<rect x="1244" y="624" width="1" height="110"/>
<rect x="1252" y="619" width="1" height="115"/>
<rect x="1260" y="616" width="1" height="118"/>
<rect x="1268" y="618" width="1" height="116"/>
<rect x="1276" y="617" width="1" height="117"/>
<rect x="1284" y="619" width="1" height="115"/>
<rect x="1292" y="623" width="1" height="111"/>
<rect x="1300" y="626" width="1" height="108"/>
<rect x="1308" y="629" width="1" height="105"/>
<rect x="1316" y="639" width="1" height="95"/>
<rect x="1324" y="647" width="1" height="87"/>
<rect x="1332" y="652" width="1" height="82"/>
<rect x="1340" y="656" width="1" height="78"/>
<rect x="1348" y="662" width="1" height="72"/>
<rect x="1356" y="666" width="1" height="68"/>
<rect x="1364" y="671" width="1" height="63"/>
<rect x="1372" y="673" width="1" height="61"/>
<rect x="1380" y="676" width="1" height="58"/>
<rect x="1388" y="679" width="1" height="55"/>
<rect x="1396" y="683" width="1" height="51"/>
<rect x="1404" y="684" width="1" height="50"/>
<rect x="1412" y="690" width="1" height="44"/>
<rect x="1420" y="695" width="1" height="39"/>
<rect x="1428" y="698" width="1" height="36"/>
<rect x="1436" y="701" width="1" height="33"/>
</g>
<polyline clip-path="url(#clipMacd)" points="2.5,670.7 4.5,669.3 12.5,663.8 20.5,658.2 28.5,650.5 36.5,642.9 44.5,635.6 52.5,628.5 60.5,621.5 68.5,615.5 76.5,609.5 84.5,606.5 92.5,604.8 100.5,606.6 108.5,609.6 116.5,615.6 124.5,622.1 132.5,629.7 140.5,637.3 148.5,645.3 156.5,653.3 164.5,661.3 172.5,666.4 180.5,670.4 188.5,674.4 196.5,678.4 204.5,682.4 212.5,686.2 220.5,689.9 228.5,693.7 236.5,697.4 244.5,701.0 252.5,704.6 260.5,706.7 268.5,708.2 276.5,709.8 284.5,710.7 292.5,711.5 300.5,711.8 308.5,711.7 316.5,711.2 324.5,710.0 332.5,708.8 340.5,707.9 348.5,706.9 356.5,706.5 364.5,706.1 372.5,706.0 380.5,706.0 388.5,706.8 396.5,708.0 404.5,710.3 412.5,712.8 420.5,715.6 428.5,718.5 436.5,721.7 444.5,724.9 452.5,728.3 460.5,731.6 468.5,733.7 476.5,735.7 484.5,737.1 492.5,738.4 500.5,739.8 508.5,738.3 516.5,736.6 524.5,733.7 532.5,730.8 540.5,726.1 548.5,720.5 556.5,715.9 564.5,712.3 572.5,709.3 580.5,707.7 588.5,706.2 596.5,705.1 604.5,705.2 612.5,705.4 620.5,705.5 628.5,705.6 636.5,705.8 644.5,705.9 652.5,705.1 660.5,704.8 668.5,705.4 676.5,706.0 684.5,706.8 692.5,707.7 700.5,709.1 708.5,711.1 716.5,712.9 724.5,714.4 732.5,715.8 740.5,717.2 748.5,718.5 756.5,719.3 764.5,720.1 772.5,720.7 780.5,721.3 788.5,721.9 796.5,722.5 804.5,723.9 812.5,725.9 820.5,727.0 828.5,728.1 836.5,728.9 844.5,728.9 852.5,728.8 860.5,727.6 868.5,726.4 876.5,725.4 884.5,724.4 892.5,723.6 900.5,723.0 908.5,722.3 916.5,721.1 924.5,719.9 932.5,719.0 940.5,718.0 948.5,717.0 956.5,715.9 964.5,714.9 972.5,714.2 980.5,714.2 988.5,714.2 996.5,714.5 1004.5,715.1 1012.5,715.7 1020.5,716.7 1028.5,717.8 1036.5,718.9 1044.5,720.4 1052.5,722.3 1060.5,724.3 1068.5,727.2 1076.5,730.1 1084.5,731.0 1092.5,731.8 1100.5,730.7 1108.5,728.8 1116.5,723.8 1124.5,717.6 1132.5,709.4 1140.5,701.3 1148.5,692.6 1156.5,683.9 1164.5,674.2 1172.5,664.2 1180.5,653.6 1188.5,644.8 1196.5,638.4 1204.5,633.2 1212.5,631.4 1220.5,629.7 1228.5,627.7 1236.5,627.1 1244.5,626.8 1252.5,626.5 1260.5,626.2 1268.5,624.4 1276.5,622.7 1284.5,621.9 1292.5,621.1 1300.5,621.1 1308.5,621.1 1316.5,623.3 1324.5,626.1 1332.5,629.7 1340.5,634.0 1348.5,638.7 1356.5,644.3 1364.5,649.9 1372.5,655.2 1380.5,660.4 1388.5,664.5 1396.5,668.3 1404.5,672.1 1412.5,675.9 1420.5,679.4 1428.5,682.2 1433.5,684.0" fill="none" stroke="#ff0000" stroke-width="1" stroke-dasharray="3,3" shape-rendering="crispEdges"/>
<text x="1" y="595" font-size="9.8" fill="#000" textLength="127" lengthAdjust="spacingAndGlyphs">MACD(12,26,9) 191.00 272.13</text>
<g shape-rendering="crispEdges" fill="#000">
<rect x="1687" y="584" width="2" height="1"/>
<rect x="1687" y="733" width="2" height="1"/>
<rect x="1687" y="751" width="2" height="1"/>
</g>
<g font-size="9.8" fill="#000" letter-spacing="-0.3">
<text x="1690" y="593" textLength="28" lengthAdjust="spacingAndGlyphs">857.58</text>
<text x="1690" y="737" textLength="18.5" lengthAdjust="spacingAndGlyphs">0.00</text>
<text x="1690" y="749" textLength="26" lengthAdjust="spacingAndGlyphs">-106.8</text>
</g>
<g shape-rendering="crispEdges" stroke="#c0c0c0" stroke-width="1" stroke-dasharray="3,3">
<line x1="3" y1="790.5" x2="1686" y2="790.5"/>
<line x1="3" y1="841.5" x2="1686" y2="841.5"/>
<line x1="3" y1="902.5" x2="1686" y2="902.5"/>
</g>
<polyline clip-path="url(#clipRsi)" points="0.5,800.1 4.5,799.9 12.5,800.6 20.5,797.1 28.5,791.2 36.5,788.2 44.5,800.7 52.5,794.5 60.5,793.7 68.5,795.5 76.5,805.6 84.5,812.2 92.5,836.8 100.5,833.1 108.5,835.7 116.5,834.8 124.5,826.2 132.5,829.7 140.5,826.9 148.5,831.8 156.5,832.4 164.5,825.7 172.5,827.8 180.5,836.4 188.5,833.0 196.5,837.4 204.5,838.3 212.5,834.8 220.5,835.8 228.5,841.3 236.5,839.1 244.5,840.8 252.5,837.8 260.5,827.3 268.5,832.9 276.5,831.9 284.5,831.7 292.5,829.0 300.5,827.8 308.5,830.1 316.5,822.3 324.5,818.7 332.5,824.1 340.5,830.4 348.5,828.0 356.5,826.8 364.5,827.7 372.5,831.6 380.5,838.7 388.5,850.6 396.5,845.3 404.5,834.8 412.5,841.5 420.5,842.8 428.5,852.8 436.5,866.4 444.5,864.9 452.5,844.2 460.5,840.7 468.5,841.0 476.5,843.7 484.5,842.0 492.5,841.7 500.5,837.7 508.5,827.1 516.5,811.7 524.5,808.7 532.5,817.2 540.5,817.1 548.5,821.9 556.5,827.5 564.5,827.8 572.5,826.8 580.5,834.1 588.5,832.6 596.5,819.1 604.5,819.1 612.5,817.1 620.5,820.5 628.5,841.0 636.5,829.0 644.5,834.6 652.5,826.4 660.5,817.7 668.5,838.3 676.5,836.1 684.5,837.6 692.5,834.9 700.5,850.0 708.5,841.6 716.5,841.6 724.5,837.2 732.5,831.5 740.5,833.6 748.5,833.6 756.5,834.3 764.5,837.2 772.5,842.0 780.5,842.8 788.5,855.3 796.5,843.4 804.5,844.5 812.5,843.0 820.5,838.8 828.5,835.7 836.5,827.8 844.5,824.9 852.5,832.4 860.5,833.6 868.5,841.5 876.5,837.8 884.5,831.1 892.5,838.3 900.5,829.1 908.5,819.3 916.5,827.1 924.5,827.8 932.5,825.1 940.5,830.9 948.5,830.9 956.5,834.2 964.5,832.7 972.5,831.0 980.5,829.3 988.5,827.8 996.5,833.4 1004.5,832.4 1012.5,832.4 1020.5,835.7 1028.5,845.5 1036.5,848.4 1044.5,862.3 1052.5,852.7 1060.5,857.8 1068.5,861.9 1076.5,837.5 1084.5,821.6 1092.5,817.5 1100.5,808.5 1108.5,802.3 1116.5,798.4 1124.5,787.3 1132.5,790.0 1140.5,786.9 1148.5,789.9 1156.5,787.3 1164.5,785.7 1172.5,781.5 1180.5,793.9 1188.5,806.6 1196.5,813.1 1204.5,809.0 1212.5,808.9 1220.5,804.5 1228.5,794.9 1236.5,805.7 1244.5,802.6 1252.5,798.1 1260.5,797.8 1268.5,805.6 1276.5,803.1 1284.5,806.7 1292.5,810.7 1300.5,808.9 1308.5,806.6 1316.5,826.3 1324.5,825.6 1332.5,821.7 1340.5,819.8 1348.5,826.4 1356.5,824.9 1364.5,825.9 1372.5,821.3 1380.5,822.5 1388.5,823.6 1396.5,825.3 1404.5,822.1 1412.5,834.8 1420.5,834.7 1428.5,830.8 1436.2,830.8" fill="none" stroke="#1e90ff" stroke-width="1" shape-rendering="crispEdges"/>
<text x="1" y="767" font-size="9.8" fill="#000" textLength="67" lengthAdjust="spacingAndGlyphs">RSI(14) 56.4067</text>
<g shape-rendering="crispEdges" fill="#000">
<rect x="1687" y="756" width="2" height="1"/>
<rect x="1687" y="790" width="2" height="1"/>
<rect x="1687" y="841" width="2" height="1"/>
<rect x="1687" y="902" width="2" height="1"/>
<rect x="1687" y="927" width="2" height="1"/>
</g>
<g font-size="9.8" fill="#000" letter-spacing="-0.3">
<text x="1690" y="766">100</text>
<text x="1690" y="794">80</text>
<text x="1690" y="845">50</text>
<text x="1690" y="906">15</text>
<text x="1690" y="925">0</text>
</g>
<g shape-rendering="crispEdges" fill="#000">
<rect x="60" y="929" width="1" height="3"/>
<rect x="124" y="929" width="1" height="3"/>
<rect x="188" y="929" width="1" height="3"/>
<rect x="252" y="929" width="1" height="3"/>
<rect x="316" y="929" width="1" height="3"/>
<rect x="380" y="929" width="1" height="3"/>
<rect x="444" y="929" width="1" height="3"/>
<rect x="508" y="929" width="1" height="3"/>
<rect x="572" y="929" width="1" height="3"/>
<rect x="636" y="929" width="1" height="3"/>
<rect x="700" y="929" width="1" height="3"/>
<rect x="764" y="929" width="1" height="3"/>
<rect x="828" y="929" width="1" height="3"/>
<rect x="892" y="929" width="1" height="3"/>
<rect x="956" y="929" width="1" height="3"/>
<rect x="1020" y="929" width="1" height="3"/>
<rect x="1084" y="929" width="1" height="3"/>
<rect x="1148" y="929" width="1" height="3"/>
<rect x="1212" y="929" width="1" height="3"/>
<rect x="1276" y="929" width="1" height="3"/>
<rect x="1340" y="929" width="1" height="3"/>
<rect x="1404" y="929" width="1" height="3"/>
</g>
<g font-size="9.8" fill="#000" letter-spacing="-0.3">
<text x="0" y="941" textLength="50" lengthAdjust="spacingAndGlyphs">8 May 2020</text>
<text x="60" y="941" textLength="44.3" lengthAdjust="spacingAndGlyphs">7 Jun 2020</text>
<text x="124" y="941" textLength="48.7" lengthAdjust="spacingAndGlyphs">16 Jun 2020</text>
<text x="188" y="941" textLength="49.2" lengthAdjust="spacingAndGlyphs">25 Jun 2020</text>
<text x="252" y="941" textLength="41.5" lengthAdjust="spacingAndGlyphs">5 Jul 2020</text>
<text x="316" y="941" textLength="46.6" lengthAdjust="spacingAndGlyphs">14 Jul 2020</text>
<text x="380" y="941" textLength="48.5" lengthAdjust="spacingAndGlyphs">23 Jul 2020</text>
<text x="444" y="941" textLength="47.3" lengthAdjust="spacingAndGlyphs">2 Aug 2020</text>
<text x="508" y="941" textLength="51.9" lengthAdjust="spacingAndGlyphs">11 Aug 2020</text>
<text x="572" y="941" textLength="51.9" lengthAdjust="spacingAndGlyphs">20 Aug 2020</text>
<text x="636" y="941" textLength="52.4" lengthAdjust="spacingAndGlyphs">30 Aug 2020</text>
<text x="700" y="941" textLength="46.9" lengthAdjust="spacingAndGlyphs">8 Sep 2020</text>
<text x="764" y="941" textLength="51.5" lengthAdjust="spacingAndGlyphs">17 Sep 2020</text>
<text x="828" y="941" textLength="51.2" lengthAdjust="spacingAndGlyphs">27 Sep 2020</text>
<text x="892" y="941" textLength="45" lengthAdjust="spacingAndGlyphs">6 Oct 2020</text>
<text x="956" y="941" textLength="50.1" lengthAdjust="spacingAndGlyphs">15 Oct 2020</text>
<text x="1020" y="941" textLength="50" lengthAdjust="spacingAndGlyphs">25 Oct 2020</text>
<text x="1084" y="941" textLength="48" lengthAdjust="spacingAndGlyphs">3 Nov 2020</text>
<text x="1148" y="941" textLength="53" lengthAdjust="spacingAndGlyphs">12 Nov 2020</text>
<text x="1212" y="941" textLength="53.5" lengthAdjust="spacingAndGlyphs">22 Nov 2020</text>
<text x="1276" y="941" textLength="46.2" lengthAdjust="spacingAndGlyphs">1 Dec 2020</text>
<text x="1340" y="941" textLength="51.5" lengthAdjust="spacingAndGlyphs">10 Dec 2020</text>
<text x="1404" y="941" textLength="51.5" lengthAdjust="spacingAndGlyphs">20 Dec 2020</text>
</g>
</svg></body></html>
